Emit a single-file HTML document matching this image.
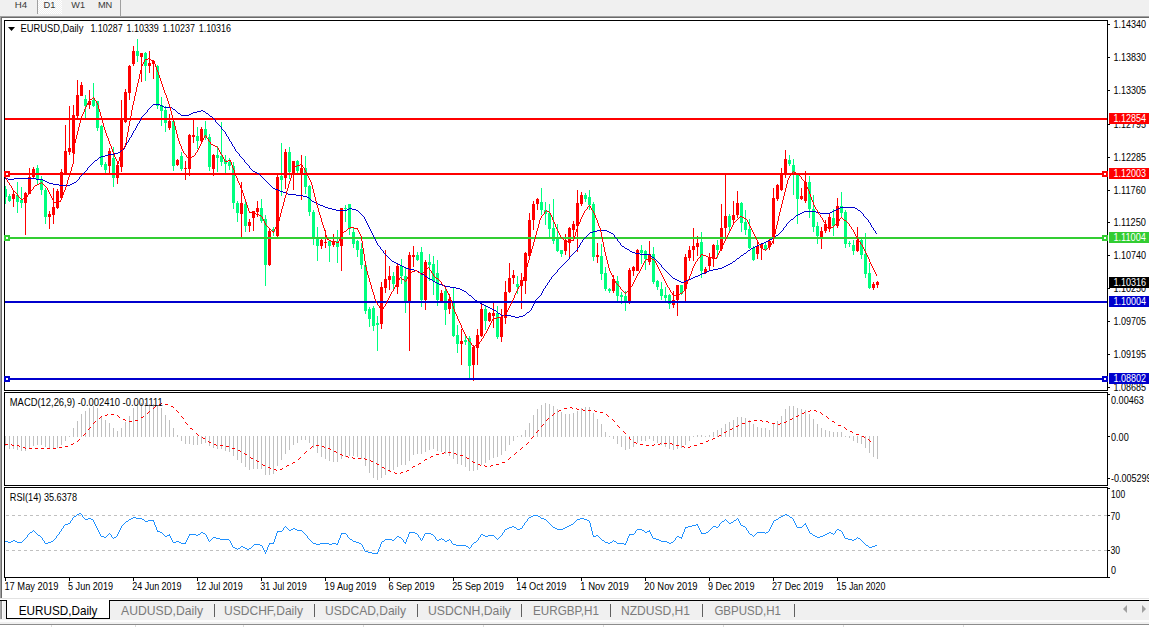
<!DOCTYPE html>
<html><head><meta charset="utf-8"><title>EURUSD,Daily</title>
<style>
html,body{margin:0;padding:0;background:#fff;}
body{width:1149px;height:627px;overflow:hidden;position:relative;font-family:"Liberation Sans",sans-serif;}
svg{position:absolute;left:0;top:0;display:block;}
text{font-family:"Liberation Sans",sans-serif;}
.ax{font-size:10.4px;fill:#000;}
.axw{font-size:10.4px;fill:#fff;}
.dt{font-size:10.4px;fill:#000;}
.ttl{font-size:10.4px;fill:#000;}
.tb{font-size:9.8px;fill:#383838;}
.tab{font-size:12.8px;fill:#7a7a7a;}
.taba{font-size:12.8px;fill:#000;}
</style></head><body>
<svg width="1149" height="627" viewBox="0 0 1149 627">
<g shape-rendering="crispEdges">
<rect x="0" y="0" width="1149" height="627" fill="#ffffff"/>
<rect x="0" y="0" width="1149" height="16" fill="#f0f0f0"/>
<defs><pattern id="hatch" width="2" height="2" patternUnits="userSpaceOnUse"><rect width="2" height="2" fill="#f0f0f0"/><rect width="1" height="1" fill="#ffffff"/><rect x="1" y="1" width="1" height="1" fill="#ffffff"/></pattern></defs>
<rect x="38" y="0" width="24" height="14" fill="url(#hatch)"/>
<rect x="37" y="0" width="1" height="14" fill="#a0a0a0"/>
<rect x="120" y="0" width="1" height="16" fill="#a0a0a0"/>
<rect x="0" y="16" width="1149" height="1" fill="#a0a0a0"/>
<rect x="0" y="17" width="1149" height="1" fill="#696969"/>
<rect x="0" y="17" width="1" height="581" fill="#a0a0a0"/>
<rect x="1" y="18" width="1" height="580" fill="#696969"/>
<rect x="0" y="598" width="1149" height="1" fill="#e3e3e3"/>
<rect x="0" y="601" width="1149" height="26" fill="#f0f0f0"/>
<rect x="0" y="600" width="1149" height="1" fill="#000"/>
<rect x="6" y="600" width="103" height="18" fill="#fff"/>
<rect x="6" y="600" width="1" height="19" fill="#000"/>
<rect x="109" y="600" width="1" height="19" fill="#000"/>
<rect x="6" y="618" width="104" height="1" fill="#000"/>
<rect x="0" y="601" width="1" height="18" fill="#a8a8a8"/><rect x="1" y="601" width="1" height="18" fill="#909090"/><rect x="2" y="601" width="1" height="18" fill="#fafafa"/>
<rect x="0" y="620" width="1149" height="2" fill="#fcfcfc"/>
<rect x="0" y="624" width="1149" height="1" fill="#8c8c8c"/>
<rect x="0" y="625" width="1149" height="2" fill="#ffffff"/>
<rect x="51" y="625" width="1" height="2" fill="#dcdcdc"/>
<rect x="135" y="625" width="1" height="2" fill="#dcdcdc"/>
<rect x="243" y="625" width="1" height="2" fill="#dcdcdc"/>
<rect x="363" y="625" width="1" height="2" fill="#dcdcdc"/>
<rect x="483" y="625" width="1" height="2" fill="#dcdcdc"/>
<rect x="603" y="625" width="1" height="2" fill="#dcdcdc"/>
<rect x="723" y="625" width="1" height="2" fill="#dcdcdc"/>
<rect x="843" y="625" width="1" height="2" fill="#dcdcdc"/>
<rect x="963" y="625" width="1" height="2" fill="#dcdcdc"/>
<rect x="214" y="604" width="1" height="13" fill="#606060"/>
<rect x="314" y="604" width="1" height="13" fill="#606060"/>
<rect x="417" y="604" width="1" height="13" fill="#606060"/>
<rect x="521" y="604" width="1" height="13" fill="#606060"/>
<rect x="610" y="604" width="1" height="13" fill="#606060"/>
<rect x="702" y="604" width="1" height="13" fill="#606060"/>
<rect x="794" y="604" width="1" height="13" fill="#606060"/>
<rect x="4" y="20" width="1104" height="1" fill="#000"/>
<rect x="4" y="390" width="1104" height="1" fill="#000"/>
<rect x="4" y="20" width="1" height="371" fill="#000"/>
<rect x="1107" y="20" width="1" height="371" fill="#000"/>
<rect x="4" y="392" width="1104" height="1" fill="#000"/>
<rect x="4" y="485" width="1104" height="1" fill="#000"/>
<rect x="4" y="392" width="1" height="94" fill="#000"/>
<rect x="1107" y="392" width="1" height="94" fill="#000"/>
<rect x="4" y="487" width="1104" height="1" fill="#000"/>
<rect x="4" y="577" width="1104" height="1" fill="#000"/>
<rect x="4" y="487" width="1" height="91" fill="#000"/>
<rect x="1107" y="487" width="1" height="91" fill="#000"/>
<rect x="1108" y="24" width="2" height="1" fill="#000"/>
<rect x="1108" y="57" width="2" height="1" fill="#000"/>
<rect x="1108" y="90" width="2" height="1" fill="#000"/>
<rect x="1108" y="124" width="2" height="1" fill="#000"/>
<rect x="1108" y="157" width="2" height="1" fill="#000"/>
<rect x="1108" y="190" width="2" height="1" fill="#000"/>
<rect x="1108" y="222" width="2" height="1" fill="#000"/>
<rect x="1108" y="255" width="2" height="1" fill="#000"/>
<rect x="1108" y="288" width="2" height="1" fill="#000"/>
<rect x="1108" y="321" width="2" height="1" fill="#000"/>
<rect x="1108" y="354" width="2" height="1" fill="#000"/>
<rect x="1108" y="387" width="2" height="1" fill="#000"/>
<rect x="1108" y="394" width="2" height="1" fill="#000"/>
<rect x="1108" y="436" width="2" height="1" fill="#000"/>
<rect x="1108" y="478" width="2" height="1" fill="#000"/>
<rect x="1108" y="488" width="2" height="1" fill="#000"/>
<rect x="1108" y="515" width="2" height="1" fill="#000"/>
<rect x="1108" y="550" width="2" height="1" fill="#000"/>
<rect x="1108" y="577" width="2" height="1" fill="#000"/>
<rect x="5" y="577" width="1" height="4" fill="#000"/>
<rect x="69" y="577" width="1" height="4" fill="#000"/>
<rect x="133" y="577" width="1" height="4" fill="#000"/>
<rect x="197" y="577" width="1" height="4" fill="#000"/>
<rect x="261" y="577" width="1" height="4" fill="#000"/>
<rect x="325" y="577" width="1" height="4" fill="#000"/>
<rect x="389" y="577" width="1" height="4" fill="#000"/>
<rect x="453" y="577" width="1" height="4" fill="#000"/>
<rect x="517" y="577" width="1" height="4" fill="#000"/>
<rect x="581" y="577" width="1" height="4" fill="#000"/>
<rect x="645" y="577" width="1" height="4" fill="#000"/>
<rect x="709" y="577" width="1" height="4" fill="#000"/>
<rect x="773" y="577" width="1" height="4" fill="#000"/>
<rect x="837" y="577" width="1" height="4" fill="#000"/>
<path d="M6 515.5H1107" stroke="#c0c0c0" stroke-width="1" stroke-dasharray="3,3" fill="none"/>
<path d="M6 550.5H1107" stroke="#c0c0c0" stroke-width="1" stroke-dasharray="3,3" fill="none"/>
<rect x="5" y="436" width="1" height="10" fill="#c0c0c0"/>
<rect x="9" y="436" width="1" height="13" fill="#c0c0c0"/>
<rect x="13" y="436" width="1" height="13" fill="#c0c0c0"/>
<rect x="17" y="436" width="1" height="14" fill="#c0c0c0"/>
<rect x="21" y="436" width="1" height="15" fill="#c0c0c0"/>
<rect x="25" y="436" width="1" height="15" fill="#c0c0c0"/>
<rect x="29" y="436" width="1" height="13" fill="#c0c0c0"/>
<rect x="33" y="436" width="1" height="10" fill="#c0c0c0"/>
<rect x="37" y="436" width="1" height="9" fill="#c0c0c0"/>
<rect x="41" y="436" width="1" height="9" fill="#c0c0c0"/>
<rect x="45" y="436" width="1" height="11" fill="#c0c0c0"/>
<rect x="49" y="436" width="1" height="13" fill="#c0c0c0"/>
<rect x="53" y="436" width="1" height="13" fill="#c0c0c0"/>
<rect x="57" y="436" width="1" height="12" fill="#c0c0c0"/>
<rect x="61" y="436" width="1" height="9" fill="#c0c0c0"/>
<rect x="65" y="436" width="1" height="5" fill="#c0c0c0"/>
<rect x="69" y="436" width="1" height="1" fill="#c0c0c0"/>
<rect x="73" y="428" width="1" height="9" fill="#c0c0c0"/>
<rect x="77" y="421" width="1" height="16" fill="#c0c0c0"/>
<rect x="81" y="414" width="1" height="23" fill="#c0c0c0"/>
<rect x="85" y="411" width="1" height="26" fill="#c0c0c0"/>
<rect x="89" y="408" width="1" height="29" fill="#c0c0c0"/>
<rect x="93" y="406" width="1" height="31" fill="#c0c0c0"/>
<rect x="97" y="408" width="1" height="29" fill="#c0c0c0"/>
<rect x="101" y="416" width="1" height="21" fill="#c0c0c0"/>
<rect x="105" y="420" width="1" height="17" fill="#c0c0c0"/>
<rect x="109" y="423" width="1" height="14" fill="#c0c0c0"/>
<rect x="113" y="428" width="1" height="9" fill="#c0c0c0"/>
<rect x="117" y="431" width="1" height="6" fill="#c0c0c0"/>
<rect x="121" y="428" width="1" height="9" fill="#c0c0c0"/>
<rect x="125" y="422" width="1" height="15" fill="#c0c0c0"/>
<rect x="129" y="416" width="1" height="21" fill="#c0c0c0"/>
<rect x="133" y="408" width="1" height="29" fill="#c0c0c0"/>
<rect x="137" y="404" width="1" height="33" fill="#c0c0c0"/>
<rect x="141" y="403" width="1" height="34" fill="#c0c0c0"/>
<rect x="145" y="403" width="1" height="34" fill="#c0c0c0"/>
<rect x="149" y="404" width="1" height="33" fill="#c0c0c0"/>
<rect x="153" y="404" width="1" height="33" fill="#c0c0c0"/>
<rect x="157" y="405" width="1" height="32" fill="#c0c0c0"/>
<rect x="161" y="408" width="1" height="29" fill="#c0c0c0"/>
<rect x="165" y="415" width="1" height="22" fill="#c0c0c0"/>
<rect x="169" y="420" width="1" height="17" fill="#c0c0c0"/>
<rect x="173" y="428" width="1" height="9" fill="#c0c0c0"/>
<rect x="177" y="435" width="1" height="2" fill="#c0c0c0"/>
<rect x="181" y="436" width="1" height="5" fill="#c0c0c0"/>
<rect x="185" y="436" width="1" height="8" fill="#c0c0c0"/>
<rect x="189" y="436" width="1" height="8" fill="#c0c0c0"/>
<rect x="193" y="436" width="1" height="9" fill="#c0c0c0"/>
<rect x="197" y="436" width="1" height="9" fill="#c0c0c0"/>
<rect x="201" y="436" width="1" height="8" fill="#c0c0c0"/>
<rect x="205" y="436" width="1" height="7" fill="#c0c0c0"/>
<rect x="209" y="436" width="1" height="10" fill="#c0c0c0"/>
<rect x="213" y="436" width="1" height="12" fill="#c0c0c0"/>
<rect x="217" y="436" width="1" height="13" fill="#c0c0c0"/>
<rect x="221" y="436" width="1" height="13" fill="#c0c0c0"/>
<rect x="225" y="436" width="1" height="15" fill="#c0c0c0"/>
<rect x="229" y="436" width="1" height="16" fill="#c0c0c0"/>
<rect x="233" y="436" width="1" height="20" fill="#c0c0c0"/>
<rect x="237" y="436" width="1" height="24" fill="#c0c0c0"/>
<rect x="241" y="436" width="1" height="27" fill="#c0c0c0"/>
<rect x="245" y="436" width="1" height="31" fill="#c0c0c0"/>
<rect x="249" y="436" width="1" height="34" fill="#c0c0c0"/>
<rect x="253" y="436" width="1" height="33" fill="#c0c0c0"/>
<rect x="257" y="436" width="1" height="33" fill="#c0c0c0"/>
<rect x="261" y="436" width="1" height="33" fill="#c0c0c0"/>
<rect x="265" y="436" width="1" height="39" fill="#c0c0c0"/>
<rect x="269" y="436" width="1" height="39" fill="#c0c0c0"/>
<rect x="273" y="436" width="1" height="38" fill="#c0c0c0"/>
<rect x="277" y="436" width="1" height="30" fill="#c0c0c0"/>
<rect x="281" y="436" width="1" height="24" fill="#c0c0c0"/>
<rect x="285" y="436" width="1" height="18" fill="#c0c0c0"/>
<rect x="289" y="436" width="1" height="14" fill="#c0c0c0"/>
<rect x="293" y="436" width="1" height="9" fill="#c0c0c0"/>
<rect x="297" y="436" width="1" height="7" fill="#c0c0c0"/>
<rect x="301" y="436" width="1" height="4" fill="#c0c0c0"/>
<rect x="305" y="436" width="1" height="4" fill="#c0c0c0"/>
<rect x="309" y="436" width="1" height="7" fill="#c0c0c0"/>
<rect x="313" y="436" width="1" height="12" fill="#c0c0c0"/>
<rect x="317" y="436" width="1" height="17" fill="#c0c0c0"/>
<rect x="321" y="436" width="1" height="21" fill="#c0c0c0"/>
<rect x="325" y="436" width="1" height="23" fill="#c0c0c0"/>
<rect x="329" y="436" width="1" height="25" fill="#c0c0c0"/>
<rect x="333" y="436" width="1" height="26" fill="#c0c0c0"/>
<rect x="337" y="436" width="1" height="26" fill="#c0c0c0"/>
<rect x="341" y="436" width="1" height="23" fill="#c0c0c0"/>
<rect x="345" y="436" width="1" height="21" fill="#c0c0c0"/>
<rect x="349" y="436" width="1" height="20" fill="#c0c0c0"/>
<rect x="353" y="436" width="1" height="20" fill="#c0c0c0"/>
<rect x="357" y="436" width="1" height="21" fill="#c0c0c0"/>
<rect x="361" y="436" width="1" height="23" fill="#c0c0c0"/>
<rect x="365" y="436" width="1" height="30" fill="#c0c0c0"/>
<rect x="369" y="436" width="1" height="37" fill="#c0c0c0"/>
<rect x="373" y="436" width="1" height="42" fill="#c0c0c0"/>
<rect x="377" y="436" width="1" height="44" fill="#c0c0c0"/>
<rect x="381" y="436" width="1" height="42" fill="#c0c0c0"/>
<rect x="385" y="436" width="1" height="39" fill="#c0c0c0"/>
<rect x="389" y="436" width="1" height="36" fill="#c0c0c0"/>
<rect x="393" y="436" width="1" height="34" fill="#c0c0c0"/>
<rect x="397" y="436" width="1" height="31" fill="#c0c0c0"/>
<rect x="401" y="436" width="1" height="29" fill="#c0c0c0"/>
<rect x="405" y="436" width="1" height="29" fill="#c0c0c0"/>
<rect x="409" y="436" width="1" height="25" fill="#c0c0c0"/>
<rect x="413" y="436" width="1" height="19" fill="#c0c0c0"/>
<rect x="417" y="436" width="1" height="18" fill="#c0c0c0"/>
<rect x="421" y="436" width="1" height="18" fill="#c0c0c0"/>
<rect x="425" y="436" width="1" height="16" fill="#c0c0c0"/>
<rect x="429" y="436" width="1" height="14" fill="#c0c0c0"/>
<rect x="433" y="436" width="1" height="13" fill="#c0c0c0"/>
<rect x="437" y="436" width="1" height="15" fill="#c0c0c0"/>
<rect x="441" y="436" width="1" height="16" fill="#c0c0c0"/>
<rect x="445" y="436" width="1" height="18" fill="#c0c0c0"/>
<rect x="449" y="436" width="1" height="20" fill="#c0c0c0"/>
<rect x="453" y="436" width="1" height="23" fill="#c0c0c0"/>
<rect x="457" y="436" width="1" height="28" fill="#c0c0c0"/>
<rect x="461" y="436" width="1" height="29" fill="#c0c0c0"/>
<rect x="465" y="436" width="1" height="31" fill="#c0c0c0"/>
<rect x="469" y="436" width="1" height="35" fill="#c0c0c0"/>
<rect x="473" y="436" width="1" height="35" fill="#c0c0c0"/>
<rect x="477" y="436" width="1" height="34" fill="#c0c0c0"/>
<rect x="481" y="436" width="1" height="29" fill="#c0c0c0"/>
<rect x="485" y="436" width="1" height="27" fill="#c0c0c0"/>
<rect x="489" y="436" width="1" height="24" fill="#c0c0c0"/>
<rect x="493" y="436" width="1" height="22" fill="#c0c0c0"/>
<rect x="497" y="436" width="1" height="21" fill="#c0c0c0"/>
<rect x="501" y="436" width="1" height="19" fill="#c0c0c0"/>
<rect x="505" y="436" width="1" height="15" fill="#c0c0c0"/>
<rect x="509" y="436" width="1" height="9" fill="#c0c0c0"/>
<rect x="513" y="436" width="1" height="5" fill="#c0c0c0"/>
<rect x="517" y="436" width="1" height="1" fill="#c0c0c0"/>
<rect x="521" y="435" width="1" height="2" fill="#c0c0c0"/>
<rect x="525" y="430" width="1" height="7" fill="#c0c0c0"/>
<rect x="529" y="423" width="1" height="14" fill="#c0c0c0"/>
<rect x="533" y="415" width="1" height="22" fill="#c0c0c0"/>
<rect x="537" y="409" width="1" height="28" fill="#c0c0c0"/>
<rect x="541" y="405" width="1" height="32" fill="#c0c0c0"/>
<rect x="545" y="403" width="1" height="34" fill="#c0c0c0"/>
<rect x="549" y="404" width="1" height="33" fill="#c0c0c0"/>
<rect x="553" y="406" width="1" height="31" fill="#c0c0c0"/>
<rect x="557" y="409" width="1" height="28" fill="#c0c0c0"/>
<rect x="561" y="412" width="1" height="25" fill="#c0c0c0"/>
<rect x="565" y="414" width="1" height="23" fill="#c0c0c0"/>
<rect x="569" y="414" width="1" height="23" fill="#c0c0c0"/>
<rect x="573" y="413" width="1" height="24" fill="#c0c0c0"/>
<rect x="577" y="411" width="1" height="26" fill="#c0c0c0"/>
<rect x="581" y="408" width="1" height="29" fill="#c0c0c0"/>
<rect x="585" y="407" width="1" height="30" fill="#c0c0c0"/>
<rect x="589" y="407" width="1" height="30" fill="#c0c0c0"/>
<rect x="593" y="413" width="1" height="24" fill="#c0c0c0"/>
<rect x="597" y="419" width="1" height="18" fill="#c0c0c0"/>
<rect x="601" y="424" width="1" height="13" fill="#c0c0c0"/>
<rect x="605" y="432" width="1" height="5" fill="#c0c0c0"/>
<rect x="609" y="436" width="1" height="1" fill="#c0c0c0"/>
<rect x="613" y="436" width="1" height="3" fill="#c0c0c0"/>
<rect x="617" y="436" width="1" height="8" fill="#c0c0c0"/>
<rect x="621" y="436" width="1" height="11" fill="#c0c0c0"/>
<rect x="625" y="436" width="1" height="14" fill="#c0c0c0"/>
<rect x="629" y="436" width="1" height="13" fill="#c0c0c0"/>
<rect x="633" y="436" width="1" height="11" fill="#c0c0c0"/>
<rect x="637" y="436" width="1" height="7" fill="#c0c0c0"/>
<rect x="641" y="436" width="1" height="5" fill="#c0c0c0"/>
<rect x="645" y="436" width="1" height="5" fill="#c0c0c0"/>
<rect x="649" y="436" width="1" height="3" fill="#c0c0c0"/>
<rect x="653" y="436" width="1" height="5" fill="#c0c0c0"/>
<rect x="657" y="436" width="1" height="7" fill="#c0c0c0"/>
<rect x="661" y="436" width="1" height="9" fill="#c0c0c0"/>
<rect x="665" y="436" width="1" height="11" fill="#c0c0c0"/>
<rect x="669" y="436" width="1" height="13" fill="#c0c0c0"/>
<rect x="673" y="436" width="1" height="14" fill="#c0c0c0"/>
<rect x="677" y="436" width="1" height="13" fill="#c0c0c0"/>
<rect x="681" y="436" width="1" height="12" fill="#c0c0c0"/>
<rect x="685" y="436" width="1" height="9" fill="#c0c0c0"/>
<rect x="689" y="436" width="1" height="5" fill="#c0c0c0"/>
<rect x="693" y="436" width="1" height="1" fill="#c0c0c0"/>
<rect x="697" y="435" width="1" height="2" fill="#c0c0c0"/>
<rect x="701" y="435" width="1" height="2" fill="#c0c0c0"/>
<rect x="705" y="436" width="1" height="1" fill="#c0c0c0"/>
<rect x="709" y="435" width="1" height="2" fill="#c0c0c0"/>
<rect x="713" y="432" width="1" height="5" fill="#c0c0c0"/>
<rect x="717" y="430" width="1" height="7" fill="#c0c0c0"/>
<rect x="721" y="428" width="1" height="9" fill="#c0c0c0"/>
<rect x="725" y="424" width="1" height="13" fill="#c0c0c0"/>
<rect x="729" y="422" width="1" height="15" fill="#c0c0c0"/>
<rect x="733" y="420" width="1" height="17" fill="#c0c0c0"/>
<rect x="737" y="417" width="1" height="20" fill="#c0c0c0"/>
<rect x="741" y="417" width="1" height="20" fill="#c0c0c0"/>
<rect x="745" y="418" width="1" height="19" fill="#c0c0c0"/>
<rect x="749" y="420" width="1" height="17" fill="#c0c0c0"/>
<rect x="753" y="424" width="1" height="13" fill="#c0c0c0"/>
<rect x="757" y="427" width="1" height="10" fill="#c0c0c0"/>
<rect x="761" y="428" width="1" height="9" fill="#c0c0c0"/>
<rect x="765" y="428" width="1" height="9" fill="#c0c0c0"/>
<rect x="769" y="430" width="1" height="7" fill="#c0c0c0"/>
<rect x="773" y="424" width="1" height="13" fill="#c0c0c0"/>
<rect x="777" y="421" width="1" height="16" fill="#c0c0c0"/>
<rect x="781" y="416" width="1" height="21" fill="#c0c0c0"/>
<rect x="785" y="409" width="1" height="28" fill="#c0c0c0"/>
<rect x="789" y="406" width="1" height="31" fill="#c0c0c0"/>
<rect x="793" y="406" width="1" height="31" fill="#c0c0c0"/>
<rect x="797" y="408" width="1" height="29" fill="#c0c0c0"/>
<rect x="801" y="409" width="1" height="28" fill="#c0c0c0"/>
<rect x="805" y="410" width="1" height="27" fill="#c0c0c0"/>
<rect x="809" y="414" width="1" height="23" fill="#c0c0c0"/>
<rect x="813" y="419" width="1" height="18" fill="#c0c0c0"/>
<rect x="817" y="424" width="1" height="13" fill="#c0c0c0"/>
<rect x="821" y="428" width="1" height="9" fill="#c0c0c0"/>
<rect x="825" y="430" width="1" height="7" fill="#c0c0c0"/>
<rect x="829" y="431" width="1" height="6" fill="#c0c0c0"/>
<rect x="833" y="432" width="1" height="5" fill="#c0c0c0"/>
<rect x="837" y="432" width="1" height="5" fill="#c0c0c0"/>
<rect x="841" y="432" width="1" height="5" fill="#c0c0c0"/>
<rect x="845" y="436" width="1" height="1" fill="#c0c0c0"/>
<rect x="849" y="436" width="1" height="2" fill="#c0c0c0"/>
<rect x="853" y="436" width="1" height="5" fill="#c0c0c0"/>
<rect x="857" y="436" width="1" height="7" fill="#c0c0c0"/>
<rect x="861" y="436" width="1" height="8" fill="#c0c0c0"/>
<rect x="865" y="436" width="1" height="12" fill="#c0c0c0"/>
<rect x="869" y="436" width="1" height="17" fill="#c0c0c0"/>
<rect x="873" y="436" width="1" height="21" fill="#c0c0c0"/>
<rect x="877" y="436" width="1" height="23" fill="#c0c0c0"/>
<rect x="5" y="186" width="1" height="18" fill="#00ff7f"/>
<rect x="5" y="189" width="2" height="8" fill="#00ff7f"/>
<rect x="9" y="194" width="1" height="8" fill="#00ff7f"/>
<rect x="8" y="196" width="3" height="5" fill="#00ff7f"/>
<rect x="13" y="191" width="1" height="16" fill="#ff0000"/>
<rect x="12" y="194" width="3" height="5" fill="#ff0000"/>
<rect x="17" y="182" width="1" height="31" fill="#00ff7f"/>
<rect x="16" y="195" width="3" height="7" fill="#00ff7f"/>
<rect x="21" y="187" width="1" height="21" fill="#00ff7f"/>
<rect x="20" y="200" width="3" height="3" fill="#00ff7f"/>
<rect x="25" y="192" width="1" height="43" fill="#ff0000"/>
<rect x="24" y="193" width="3" height="10" fill="#ff0000"/>
<rect x="29" y="168" width="1" height="26" fill="#ff0000"/>
<rect x="28" y="177" width="3" height="17" fill="#ff0000"/>
<rect x="33" y="167" width="1" height="11" fill="#ff0000"/>
<rect x="32" y="169" width="3" height="8" fill="#ff0000"/>
<rect x="37" y="165" width="1" height="19" fill="#00ff7f"/>
<rect x="36" y="168" width="3" height="12" fill="#00ff7f"/>
<rect x="41" y="176" width="1" height="19" fill="#00ff7f"/>
<rect x="40" y="180" width="3" height="10" fill="#00ff7f"/>
<rect x="45" y="188" width="1" height="36" fill="#00ff7f"/>
<rect x="44" y="190" width="3" height="27" fill="#00ff7f"/>
<rect x="49" y="211" width="1" height="18" fill="#ff0000"/>
<rect x="48" y="214" width="3" height="3" fill="#ff0000"/>
<rect x="53" y="188" width="1" height="36" fill="#ff0000"/>
<rect x="52" y="207" width="3" height="8" fill="#ff0000"/>
<rect x="57" y="189" width="1" height="20" fill="#ff0000"/>
<rect x="56" y="191" width="3" height="17" fill="#ff0000"/>
<rect x="61" y="169" width="1" height="30" fill="#ff0000"/>
<rect x="60" y="172" width="3" height="26" fill="#ff0000"/>
<rect x="65" y="125" width="1" height="50" fill="#ff0000"/>
<rect x="64" y="151" width="3" height="22" fill="#ff0000"/>
<rect x="69" y="106" width="1" height="49" fill="#ff0000"/>
<rect x="68" y="148" width="3" height="4" fill="#ff0000"/>
<rect x="73" y="105" width="1" height="49" fill="#ff0000"/>
<rect x="72" y="115" width="3" height="38" fill="#ff0000"/>
<rect x="77" y="80" width="1" height="39" fill="#ff0000"/>
<rect x="76" y="95" width="3" height="21" fill="#ff0000"/>
<rect x="81" y="82" width="1" height="14" fill="#ff0000"/>
<rect x="80" y="85" width="3" height="11" fill="#ff0000"/>
<rect x="85" y="95" width="1" height="23" fill="#00ff7f"/>
<rect x="84" y="99" width="3" height="7" fill="#00ff7f"/>
<rect x="89" y="90" width="1" height="19" fill="#ff0000"/>
<rect x="88" y="101" width="3" height="4" fill="#ff0000"/>
<rect x="93" y="83" width="1" height="24" fill="#00ff7f"/>
<rect x="92" y="100" width="3" height="6" fill="#00ff7f"/>
<rect x="97" y="101" width="1" height="30" fill="#00ff7f"/>
<rect x="96" y="101" width="3" height="27" fill="#00ff7f"/>
<rect x="101" y="125" width="1" height="42" fill="#00ff7f"/>
<rect x="100" y="126" width="3" height="39" fill="#00ff7f"/>
<rect x="105" y="162" width="1" height="11" fill="#00ff7f"/>
<rect x="104" y="164" width="3" height="6" fill="#00ff7f"/>
<rect x="109" y="148" width="1" height="25" fill="#ff0000"/>
<rect x="108" y="151" width="3" height="15" fill="#ff0000"/>
<rect x="113" y="147" width="1" height="40" fill="#00ff7f"/>
<rect x="112" y="158" width="3" height="20" fill="#00ff7f"/>
<rect x="117" y="162" width="1" height="22" fill="#ff0000"/>
<rect x="116" y="165" width="3" height="13" fill="#ff0000"/>
<rect x="121" y="100" width="1" height="72" fill="#ff0000"/>
<rect x="120" y="120" width="3" height="47" fill="#ff0000"/>
<rect x="125" y="89" width="1" height="34" fill="#ff0000"/>
<rect x="124" y="92" width="3" height="30" fill="#ff0000"/>
<rect x="129" y="65" width="1" height="35" fill="#ff0000"/>
<rect x="128" y="66" width="3" height="27" fill="#ff0000"/>
<rect x="133" y="46" width="1" height="20" fill="#ff0000"/>
<rect x="132" y="51" width="3" height="13" fill="#ff0000"/>
<rect x="137" y="39" width="1" height="23" fill="#00ff7f"/>
<rect x="136" y="51" width="3" height="5" fill="#00ff7f"/>
<rect x="141" y="53" width="1" height="29" fill="#ff0000"/>
<rect x="140" y="53" width="3" height="4" fill="#ff0000"/>
<rect x="145" y="52" width="1" height="29" fill="#00ff7f"/>
<rect x="144" y="53" width="3" height="13" fill="#00ff7f"/>
<rect x="149" y="51" width="1" height="22" fill="#ff0000"/>
<rect x="148" y="63" width="3" height="3" fill="#ff0000"/>
<rect x="153" y="60" width="1" height="19" fill="#ff0000"/>
<rect x="152" y="61" width="3" height="3" fill="#ff0000"/>
<rect x="157" y="65" width="1" height="44" fill="#00ff7f"/>
<rect x="156" y="66" width="3" height="40" fill="#00ff7f"/>
<rect x="161" y="97" width="1" height="29" fill="#00ff7f"/>
<rect x="160" y="105" width="3" height="6" fill="#00ff7f"/>
<rect x="165" y="106" width="1" height="26" fill="#00ff7f"/>
<rect x="164" y="110" width="3" height="13" fill="#00ff7f"/>
<rect x="169" y="114" width="1" height="16" fill="#ff0000"/>
<rect x="168" y="121" width="3" height="7" fill="#ff0000"/>
<rect x="173" y="120" width="1" height="51" fill="#00ff7f"/>
<rect x="172" y="121" width="3" height="45" fill="#00ff7f"/>
<rect x="177" y="159" width="1" height="7" fill="#ff0000"/>
<rect x="176" y="160" width="3" height="5" fill="#ff0000"/>
<rect x="181" y="152" width="1" height="19" fill="#00ff7f"/>
<rect x="180" y="156" width="3" height="13" fill="#00ff7f"/>
<rect x="185" y="161" width="1" height="19" fill="#ff0000"/>
<rect x="184" y="168" width="3" height="1" fill="#ff0000"/>
<rect x="189" y="134" width="1" height="42" fill="#ff0000"/>
<rect x="188" y="135" width="3" height="34" fill="#ff0000"/>
<rect x="193" y="120" width="1" height="23" fill="#ff0000"/>
<rect x="192" y="135" width="3" height="2" fill="#ff0000"/>
<rect x="197" y="127" width="1" height="22" fill="#00ff7f"/>
<rect x="196" y="136" width="3" height="5" fill="#00ff7f"/>
<rect x="201" y="127" width="1" height="15" fill="#ff0000"/>
<rect x="200" y="129" width="3" height="12" fill="#ff0000"/>
<rect x="205" y="121" width="1" height="19" fill="#00ff7f"/>
<rect x="204" y="129" width="3" height="7" fill="#00ff7f"/>
<rect x="209" y="134" width="1" height="37" fill="#00ff7f"/>
<rect x="208" y="137" width="3" height="30" fill="#00ff7f"/>
<rect x="213" y="154" width="1" height="22" fill="#ff0000"/>
<rect x="212" y="155" width="3" height="14" fill="#ff0000"/>
<rect x="217" y="146" width="1" height="26" fill="#00ff7f"/>
<rect x="216" y="155" width="3" height="3" fill="#00ff7f"/>
<rect x="221" y="122" width="1" height="44" fill="#00ff7f"/>
<rect x="220" y="156" width="3" height="6" fill="#00ff7f"/>
<rect x="225" y="155" width="1" height="18" fill="#00ff7f"/>
<rect x="224" y="160" width="3" height="4" fill="#00ff7f"/>
<rect x="229" y="158" width="1" height="12" fill="#00ff7f"/>
<rect x="228" y="162" width="3" height="4" fill="#00ff7f"/>
<rect x="233" y="162" width="1" height="47" fill="#00ff7f"/>
<rect x="232" y="166" width="3" height="37" fill="#00ff7f"/>
<rect x="237" y="201" width="1" height="21" fill="#00ff7f"/>
<rect x="236" y="203" width="3" height="10" fill="#00ff7f"/>
<rect x="241" y="182" width="1" height="55" fill="#ff0000"/>
<rect x="240" y="203" width="3" height="11" fill="#ff0000"/>
<rect x="245" y="202" width="1" height="30" fill="#00ff7f"/>
<rect x="244" y="204" width="3" height="22" fill="#00ff7f"/>
<rect x="249" y="219" width="1" height="13" fill="#ff0000"/>
<rect x="248" y="222" width="3" height="4" fill="#ff0000"/>
<rect x="253" y="211" width="1" height="20" fill="#ff0000"/>
<rect x="252" y="211" width="3" height="7" fill="#ff0000"/>
<rect x="257" y="201" width="1" height="16" fill="#ff0000"/>
<rect x="256" y="208" width="3" height="4" fill="#ff0000"/>
<rect x="261" y="199" width="1" height="24" fill="#00ff7f"/>
<rect x="260" y="208" width="3" height="13" fill="#00ff7f"/>
<rect x="265" y="215" width="1" height="71" fill="#00ff7f"/>
<rect x="264" y="219" width="3" height="46" fill="#00ff7f"/>
<rect x="269" y="229" width="1" height="37" fill="#ff0000"/>
<rect x="268" y="231" width="3" height="34" fill="#ff0000"/>
<rect x="273" y="227" width="1" height="9" fill="#00ff7f"/>
<rect x="272" y="229" width="3" height="3" fill="#00ff7f"/>
<rect x="277" y="175" width="1" height="62" fill="#ff0000"/>
<rect x="276" y="177" width="3" height="59" fill="#ff0000"/>
<rect x="281" y="143" width="1" height="53" fill="#00ff7f"/>
<rect x="280" y="176" width="3" height="4" fill="#00ff7f"/>
<rect x="285" y="149" width="1" height="40" fill="#ff0000"/>
<rect x="284" y="152" width="3" height="26" fill="#ff0000"/>
<rect x="289" y="147" width="1" height="32" fill="#00ff7f"/>
<rect x="288" y="152" width="3" height="20" fill="#00ff7f"/>
<rect x="293" y="161" width="1" height="29" fill="#ff0000"/>
<rect x="292" y="161" width="3" height="12" fill="#ff0000"/>
<rect x="297" y="160" width="1" height="13" fill="#00ff7f"/>
<rect x="296" y="161" width="3" height="10" fill="#00ff7f"/>
<rect x="301" y="155" width="1" height="45" fill="#ff0000"/>
<rect x="300" y="168" width="3" height="7" fill="#ff0000"/>
<rect x="305" y="156" width="1" height="38" fill="#00ff7f"/>
<rect x="304" y="168" width="3" height="19" fill="#00ff7f"/>
<rect x="309" y="185" width="1" height="31" fill="#00ff7f"/>
<rect x="308" y="186" width="3" height="26" fill="#00ff7f"/>
<rect x="313" y="210" width="1" height="35" fill="#00ff7f"/>
<rect x="312" y="212" width="3" height="26" fill="#00ff7f"/>
<rect x="317" y="227" width="1" height="34" fill="#00ff7f"/>
<rect x="316" y="238" width="3" height="8" fill="#00ff7f"/>
<rect x="321" y="239" width="1" height="10" fill="#ff0000"/>
<rect x="320" y="240" width="3" height="6" fill="#ff0000"/>
<rect x="325" y="230" width="1" height="18" fill="#ff0000"/>
<rect x="324" y="242" width="3" height="1" fill="#ff0000"/>
<rect x="329" y="240" width="1" height="22" fill="#00ff7f"/>
<rect x="328" y="241" width="3" height="5" fill="#00ff7f"/>
<rect x="333" y="234" width="1" height="13" fill="#ff0000"/>
<rect x="332" y="241" width="3" height="4" fill="#ff0000"/>
<rect x="337" y="230" width="1" height="33" fill="#00ff7f"/>
<rect x="336" y="241" width="3" height="6" fill="#00ff7f"/>
<rect x="341" y="208" width="1" height="63" fill="#ff0000"/>
<rect x="340" y="208" width="3" height="38" fill="#ff0000"/>
<rect x="345" y="205" width="1" height="17" fill="#00ff7f"/>
<rect x="344" y="208" width="3" height="1" fill="#00ff7f"/>
<rect x="349" y="204" width="1" height="31" fill="#00ff7f"/>
<rect x="348" y="204" width="3" height="25" fill="#00ff7f"/>
<rect x="353" y="228" width="1" height="20" fill="#00ff7f"/>
<rect x="352" y="232" width="3" height="12" fill="#00ff7f"/>
<rect x="357" y="240" width="1" height="17" fill="#00ff7f"/>
<rect x="356" y="241" width="3" height="9" fill="#00ff7f"/>
<rect x="361" y="243" width="1" height="26" fill="#00ff7f"/>
<rect x="360" y="249" width="3" height="16" fill="#00ff7f"/>
<rect x="365" y="264" width="1" height="50" fill="#00ff7f"/>
<rect x="364" y="265" width="3" height="46" fill="#00ff7f"/>
<rect x="369" y="307" width="1" height="20" fill="#00ff7f"/>
<rect x="368" y="309" width="3" height="10" fill="#00ff7f"/>
<rect x="373" y="306" width="1" height="25" fill="#00ff7f"/>
<rect x="372" y="308" width="3" height="18" fill="#00ff7f"/>
<rect x="377" y="316" width="1" height="35" fill="#00ff7f"/>
<rect x="376" y="323" width="3" height="2" fill="#00ff7f"/>
<rect x="381" y="282" width="1" height="47" fill="#ff0000"/>
<rect x="380" y="287" width="3" height="37" fill="#ff0000"/>
<rect x="385" y="250" width="1" height="43" fill="#ff0000"/>
<rect x="384" y="279" width="3" height="9" fill="#ff0000"/>
<rect x="389" y="266" width="1" height="24" fill="#ff0000"/>
<rect x="388" y="276" width="3" height="4" fill="#ff0000"/>
<rect x="393" y="272" width="1" height="17" fill="#00ff7f"/>
<rect x="392" y="276" width="3" height="8" fill="#00ff7f"/>
<rect x="397" y="263" width="1" height="31" fill="#ff0000"/>
<rect x="396" y="266" width="3" height="21" fill="#ff0000"/>
<rect x="401" y="259" width="1" height="25" fill="#00ff7f"/>
<rect x="400" y="266" width="3" height="10" fill="#00ff7f"/>
<rect x="405" y="267" width="1" height="46" fill="#00ff7f"/>
<rect x="404" y="276" width="3" height="25" fill="#00ff7f"/>
<rect x="409" y="252" width="1" height="99" fill="#ff0000"/>
<rect x="408" y="255" width="3" height="48" fill="#ff0000"/>
<rect x="413" y="246" width="1" height="21" fill="#ff0000"/>
<rect x="412" y="255" width="3" height="2" fill="#ff0000"/>
<rect x="417" y="252" width="1" height="9" fill="#00ff7f"/>
<rect x="416" y="255" width="3" height="5" fill="#00ff7f"/>
<rect x="421" y="247" width="1" height="60" fill="#00ff7f"/>
<rect x="420" y="252" width="3" height="48" fill="#00ff7f"/>
<rect x="425" y="260" width="1" height="50" fill="#ff0000"/>
<rect x="424" y="262" width="3" height="38" fill="#ff0000"/>
<rect x="429" y="254" width="1" height="27" fill="#00ff7f"/>
<rect x="428" y="262" width="3" height="3" fill="#00ff7f"/>
<rect x="433" y="256" width="1" height="39" fill="#00ff7f"/>
<rect x="432" y="264" width="3" height="17" fill="#00ff7f"/>
<rect x="437" y="260" width="1" height="46" fill="#00ff7f"/>
<rect x="436" y="273" width="3" height="27" fill="#00ff7f"/>
<rect x="441" y="290" width="1" height="12" fill="#ff0000"/>
<rect x="440" y="293" width="3" height="8" fill="#ff0000"/>
<rect x="445" y="286" width="1" height="39" fill="#00ff7f"/>
<rect x="444" y="291" width="3" height="19" fill="#00ff7f"/>
<rect x="449" y="294" width="1" height="20" fill="#ff0000"/>
<rect x="448" y="299" width="3" height="10" fill="#ff0000"/>
<rect x="453" y="288" width="1" height="49" fill="#00ff7f"/>
<rect x="452" y="303" width="3" height="33" fill="#00ff7f"/>
<rect x="457" y="325" width="1" height="28" fill="#00ff7f"/>
<rect x="456" y="335" width="3" height="9" fill="#00ff7f"/>
<rect x="461" y="329" width="1" height="36" fill="#ff0000"/>
<rect x="460" y="341" width="3" height="3" fill="#ff0000"/>
<rect x="465" y="336" width="1" height="9" fill="#00ff7f"/>
<rect x="464" y="340" width="3" height="2" fill="#00ff7f"/>
<rect x="469" y="336" width="1" height="42" fill="#00ff7f"/>
<rect x="468" y="338" width="3" height="28" fill="#00ff7f"/>
<rect x="473" y="345" width="1" height="36" fill="#ff0000"/>
<rect x="472" y="347" width="3" height="18" fill="#ff0000"/>
<rect x="477" y="329" width="1" height="36" fill="#ff0000"/>
<rect x="476" y="335" width="3" height="13" fill="#ff0000"/>
<rect x="481" y="302" width="1" height="35" fill="#ff0000"/>
<rect x="480" y="309" width="3" height="27" fill="#ff0000"/>
<rect x="485" y="306" width="1" height="24" fill="#00ff7f"/>
<rect x="484" y="309" width="3" height="12" fill="#00ff7f"/>
<rect x="489" y="312" width="1" height="10" fill="#ff0000"/>
<rect x="488" y="313" width="3" height="8" fill="#ff0000"/>
<rect x="493" y="302" width="1" height="26" fill="#ff0000"/>
<rect x="492" y="313" width="3" height="3" fill="#ff0000"/>
<rect x="497" y="306" width="1" height="33" fill="#00ff7f"/>
<rect x="496" y="313" width="3" height="24" fill="#00ff7f"/>
<rect x="501" y="309" width="1" height="33" fill="#ff0000"/>
<rect x="500" y="317" width="3" height="20" fill="#ff0000"/>
<rect x="505" y="281" width="1" height="43" fill="#ff0000"/>
<rect x="504" y="292" width="3" height="26" fill="#ff0000"/>
<rect x="509" y="263" width="1" height="30" fill="#ff0000"/>
<rect x="508" y="278" width="3" height="14" fill="#ff0000"/>
<rect x="513" y="270" width="1" height="14" fill="#ff0000"/>
<rect x="512" y="275" width="3" height="3" fill="#ff0000"/>
<rect x="517" y="276" width="1" height="18" fill="#00ff7f"/>
<rect x="516" y="284" width="3" height="3" fill="#00ff7f"/>
<rect x="521" y="273" width="1" height="36" fill="#ff0000"/>
<rect x="520" y="280" width="3" height="6" fill="#ff0000"/>
<rect x="525" y="252" width="1" height="42" fill="#ff0000"/>
<rect x="524" y="253" width="3" height="28" fill="#ff0000"/>
<rect x="529" y="213" width="1" height="44" fill="#ff0000"/>
<rect x="528" y="220" width="3" height="36" fill="#ff0000"/>
<rect x="533" y="201" width="1" height="29" fill="#ff0000"/>
<rect x="532" y="204" width="3" height="16" fill="#ff0000"/>
<rect x="537" y="198" width="1" height="12" fill="#ff0000"/>
<rect x="536" y="199" width="3" height="5" fill="#ff0000"/>
<rect x="541" y="188" width="1" height="27" fill="#00ff7f"/>
<rect x="540" y="202" width="3" height="8" fill="#00ff7f"/>
<rect x="545" y="202" width="1" height="23" fill="#00ff7f"/>
<rect x="544" y="210" width="3" height="4" fill="#00ff7f"/>
<rect x="549" y="204" width="1" height="33" fill="#00ff7f"/>
<rect x="548" y="213" width="3" height="16" fill="#00ff7f"/>
<rect x="553" y="199" width="1" height="45" fill="#00ff7f"/>
<rect x="552" y="228" width="3" height="13" fill="#00ff7f"/>
<rect x="557" y="224" width="1" height="28" fill="#00ff7f"/>
<rect x="556" y="239" width="3" height="12" fill="#00ff7f"/>
<rect x="561" y="250" width="1" height="7" fill="#00ff7f"/>
<rect x="560" y="250" width="3" height="4" fill="#00ff7f"/>
<rect x="565" y="234" width="1" height="21" fill="#ff0000"/>
<rect x="564" y="240" width="3" height="11" fill="#ff0000"/>
<rect x="569" y="227" width="1" height="30" fill="#ff0000"/>
<rect x="568" y="228" width="3" height="15" fill="#ff0000"/>
<rect x="573" y="221" width="1" height="20" fill="#ff0000"/>
<rect x="572" y="224" width="3" height="6" fill="#ff0000"/>
<rect x="577" y="190" width="1" height="62" fill="#ff0000"/>
<rect x="576" y="203" width="3" height="23" fill="#ff0000"/>
<rect x="581" y="192" width="1" height="14" fill="#ff0000"/>
<rect x="580" y="195" width="3" height="9" fill="#ff0000"/>
<rect x="585" y="193" width="1" height="9" fill="#00ff7f"/>
<rect x="584" y="195" width="3" height="4" fill="#00ff7f"/>
<rect x="589" y="190" width="1" height="20" fill="#00ff7f"/>
<rect x="588" y="197" width="3" height="8" fill="#00ff7f"/>
<rect x="593" y="202" width="1" height="59" fill="#00ff7f"/>
<rect x="592" y="204" width="3" height="53" fill="#00ff7f"/>
<rect x="597" y="243" width="1" height="20" fill="#ff0000"/>
<rect x="596" y="255" width="3" height="2" fill="#ff0000"/>
<rect x="601" y="244" width="1" height="36" fill="#00ff7f"/>
<rect x="600" y="256" width="3" height="18" fill="#00ff7f"/>
<rect x="605" y="267" width="1" height="24" fill="#00ff7f"/>
<rect x="604" y="273" width="3" height="16" fill="#00ff7f"/>
<rect x="609" y="288" width="1" height="5" fill="#00ff7f"/>
<rect x="608" y="289" width="3" height="2" fill="#00ff7f"/>
<rect x="613" y="275" width="1" height="18" fill="#ff0000"/>
<rect x="612" y="279" width="3" height="12" fill="#ff0000"/>
<rect x="617" y="276" width="1" height="25" fill="#00ff7f"/>
<rect x="616" y="281" width="3" height="15" fill="#00ff7f"/>
<rect x="621" y="292" width="1" height="12" fill="#00ff7f"/>
<rect x="620" y="295" width="3" height="2" fill="#00ff7f"/>
<rect x="625" y="291" width="1" height="20" fill="#00ff7f"/>
<rect x="624" y="296" width="3" height="5" fill="#00ff7f"/>
<rect x="629" y="268" width="1" height="36" fill="#ff0000"/>
<rect x="628" y="270" width="3" height="32" fill="#ff0000"/>
<rect x="633" y="266" width="1" height="10" fill="#ff0000"/>
<rect x="632" y="267" width="3" height="4" fill="#ff0000"/>
<rect x="637" y="249" width="1" height="22" fill="#ff0000"/>
<rect x="636" y="250" width="3" height="21" fill="#ff0000"/>
<rect x="641" y="245" width="1" height="19" fill="#00ff7f"/>
<rect x="640" y="250" width="3" height="3" fill="#00ff7f"/>
<rect x="645" y="250" width="1" height="20" fill="#00ff7f"/>
<rect x="644" y="251" width="3" height="8" fill="#00ff7f"/>
<rect x="649" y="241" width="1" height="24" fill="#ff0000"/>
<rect x="648" y="254" width="3" height="8" fill="#ff0000"/>
<rect x="653" y="247" width="1" height="37" fill="#00ff7f"/>
<rect x="652" y="254" width="3" height="28" fill="#00ff7f"/>
<rect x="657" y="280" width="1" height="10" fill="#00ff7f"/>
<rect x="656" y="281" width="3" height="6" fill="#00ff7f"/>
<rect x="661" y="282" width="1" height="18" fill="#00ff7f"/>
<rect x="660" y="289" width="3" height="7" fill="#00ff7f"/>
<rect x="665" y="287" width="1" height="14" fill="#00ff7f"/>
<rect x="664" y="295" width="3" height="3" fill="#00ff7f"/>
<rect x="669" y="294" width="1" height="15" fill="#00ff7f"/>
<rect x="668" y="295" width="3" height="9" fill="#00ff7f"/>
<rect x="673" y="291" width="1" height="17" fill="#ff0000"/>
<rect x="672" y="300" width="3" height="5" fill="#ff0000"/>
<rect x="677" y="285" width="1" height="31" fill="#ff0000"/>
<rect x="676" y="285" width="3" height="15" fill="#ff0000"/>
<rect x="681" y="285" width="1" height="10" fill="#00ff7f"/>
<rect x="680" y="285" width="3" height="9" fill="#00ff7f"/>
<rect x="685" y="254" width="1" height="47" fill="#ff0000"/>
<rect x="684" y="257" width="3" height="32" fill="#ff0000"/>
<rect x="689" y="246" width="1" height="15" fill="#ff0000"/>
<rect x="688" y="250" width="3" height="8" fill="#ff0000"/>
<rect x="693" y="228" width="1" height="33" fill="#ff0000"/>
<rect x="692" y="246" width="3" height="4" fill="#ff0000"/>
<rect x="697" y="236" width="1" height="20" fill="#ff0000"/>
<rect x="696" y="243" width="3" height="4" fill="#ff0000"/>
<rect x="701" y="232" width="1" height="46" fill="#00ff7f"/>
<rect x="700" y="242" width="3" height="29" fill="#00ff7f"/>
<rect x="705" y="267" width="1" height="7" fill="#ff0000"/>
<rect x="704" y="269" width="3" height="4" fill="#ff0000"/>
<rect x="709" y="253" width="1" height="17" fill="#ff0000"/>
<rect x="708" y="258" width="3" height="8" fill="#ff0000"/>
<rect x="713" y="244" width="1" height="23" fill="#ff0000"/>
<rect x="712" y="245" width="3" height="14" fill="#ff0000"/>
<rect x="717" y="240" width="1" height="18" fill="#00ff7f"/>
<rect x="716" y="245" width="3" height="5" fill="#00ff7f"/>
<rect x="721" y="204" width="1" height="47" fill="#ff0000"/>
<rect x="720" y="228" width="3" height="21" fill="#ff0000"/>
<rect x="725" y="175" width="1" height="63" fill="#ff0000"/>
<rect x="724" y="216" width="3" height="12" fill="#ff0000"/>
<rect x="729" y="214" width="1" height="18" fill="#00ff7f"/>
<rect x="728" y="216" width="3" height="11" fill="#00ff7f"/>
<rect x="733" y="201" width="1" height="22" fill="#ff0000"/>
<rect x="732" y="215" width="3" height="5" fill="#ff0000"/>
<rect x="737" y="191" width="1" height="27" fill="#ff0000"/>
<rect x="736" y="203" width="3" height="12" fill="#ff0000"/>
<rect x="741" y="202" width="1" height="30" fill="#00ff7f"/>
<rect x="740" y="203" width="3" height="20" fill="#00ff7f"/>
<rect x="745" y="210" width="1" height="25" fill="#00ff7f"/>
<rect x="744" y="222" width="3" height="8" fill="#00ff7f"/>
<rect x="749" y="219" width="1" height="30" fill="#00ff7f"/>
<rect x="748" y="229" width="3" height="19" fill="#00ff7f"/>
<rect x="753" y="246" width="1" height="15" fill="#00ff7f"/>
<rect x="752" y="248" width="3" height="12" fill="#00ff7f"/>
<rect x="757" y="242" width="1" height="17" fill="#ff0000"/>
<rect x="756" y="246" width="3" height="8" fill="#ff0000"/>
<rect x="761" y="243" width="1" height="17" fill="#ff0000"/>
<rect x="760" y="244" width="3" height="4" fill="#ff0000"/>
<rect x="765" y="243" width="1" height="7" fill="#00ff7f"/>
<rect x="764" y="245" width="3" height="4" fill="#00ff7f"/>
<rect x="769" y="239" width="1" height="11" fill="#ff0000"/>
<rect x="768" y="241" width="3" height="6" fill="#ff0000"/>
<rect x="773" y="188" width="1" height="56" fill="#ff0000"/>
<rect x="772" y="198" width="3" height="40" fill="#ff0000"/>
<rect x="777" y="184" width="1" height="17" fill="#ff0000"/>
<rect x="776" y="185" width="3" height="14" fill="#ff0000"/>
<rect x="781" y="168" width="1" height="23" fill="#ff0000"/>
<rect x="780" y="174" width="3" height="16" fill="#ff0000"/>
<rect x="785" y="150" width="1" height="28" fill="#ff0000"/>
<rect x="784" y="159" width="3" height="14" fill="#ff0000"/>
<rect x="789" y="155" width="1" height="11" fill="#00ff7f"/>
<rect x="788" y="160" width="3" height="4" fill="#00ff7f"/>
<rect x="793" y="159" width="1" height="36" fill="#00ff7f"/>
<rect x="792" y="165" width="3" height="7" fill="#00ff7f"/>
<rect x="797" y="173" width="1" height="51" fill="#00ff7f"/>
<rect x="796" y="174" width="3" height="25" fill="#00ff7f"/>
<rect x="801" y="188" width="1" height="12" fill="#ff0000"/>
<rect x="800" y="196" width="3" height="3" fill="#ff0000"/>
<rect x="805" y="171" width="1" height="32" fill="#ff0000"/>
<rect x="804" y="182" width="3" height="19" fill="#ff0000"/>
<rect x="809" y="176" width="1" height="42" fill="#00ff7f"/>
<rect x="808" y="182" width="3" height="27" fill="#00ff7f"/>
<rect x="813" y="195" width="1" height="37" fill="#00ff7f"/>
<rect x="812" y="209" width="3" height="18" fill="#00ff7f"/>
<rect x="817" y="222" width="1" height="22" fill="#00ff7f"/>
<rect x="816" y="226" width="3" height="10" fill="#00ff7f"/>
<rect x="821" y="227" width="1" height="22" fill="#ff0000"/>
<rect x="820" y="231" width="3" height="6" fill="#ff0000"/>
<rect x="825" y="220" width="1" height="13" fill="#ff0000"/>
<rect x="824" y="224" width="3" height="7" fill="#ff0000"/>
<rect x="829" y="214" width="1" height="18" fill="#ff0000"/>
<rect x="828" y="217" width="3" height="12" fill="#ff0000"/>
<rect x="833" y="209" width="1" height="27" fill="#00ff7f"/>
<rect x="832" y="218" width="3" height="8" fill="#00ff7f"/>
<rect x="837" y="198" width="1" height="30" fill="#ff0000"/>
<rect x="836" y="206" width="3" height="20" fill="#ff0000"/>
<rect x="841" y="192" width="1" height="26" fill="#00ff7f"/>
<rect x="840" y="206" width="3" height="7" fill="#00ff7f"/>
<rect x="845" y="210" width="1" height="38" fill="#00ff7f"/>
<rect x="844" y="212" width="3" height="32" fill="#00ff7f"/>
<rect x="849" y="241" width="1" height="6" fill="#00ff7f"/>
<rect x="848" y="243" width="3" height="1" fill="#00ff7f"/>
<rect x="853" y="240" width="1" height="15" fill="#00ff7f"/>
<rect x="852" y="245" width="3" height="6" fill="#00ff7f"/>
<rect x="857" y="227" width="1" height="25" fill="#ff0000"/>
<rect x="856" y="240" width="3" height="11" fill="#ff0000"/>
<rect x="861" y="239" width="1" height="20" fill="#00ff7f"/>
<rect x="860" y="240" width="3" height="15" fill="#00ff7f"/>
<rect x="865" y="233" width="1" height="45" fill="#00ff7f"/>
<rect x="864" y="254" width="3" height="20" fill="#00ff7f"/>
<rect x="869" y="263" width="1" height="26" fill="#00ff7f"/>
<rect x="868" y="273" width="3" height="15" fill="#00ff7f"/>
<rect x="873" y="282" width="1" height="8" fill="#ff0000"/>
<rect x="872" y="284" width="3" height="4" fill="#ff0000"/>
<rect x="877" y="281" width="1" height="7" fill="#ff0000"/>
<rect x="876" y="282" width="3" height="3" fill="#ff0000"/>
</g>
<g shape-rendering="crispEdges">
<rect x="5" y="118" width="1102" height="2" fill="#ff0000"/>
<rect x="5" y="173" width="1102" height="2" fill="#ff0000"/>
<rect x="4" y="171" width="6" height="6" fill="#ff0000"/>
<rect x="6" y="173" width="2" height="2" fill="#fff"/>
<rect x="1102" y="171" width="6" height="6" fill="#ff0000"/>
<rect x="1104" y="173" width="2" height="2" fill="#fff"/>
<rect x="5" y="237" width="1102" height="2" fill="#32cd32"/>
<rect x="4" y="235" width="6" height="6" fill="#32cd32"/>
<rect x="6" y="237" width="2" height="2" fill="#fff"/>
<rect x="1102" y="235" width="6" height="6" fill="#32cd32"/>
<rect x="1104" y="237" width="2" height="2" fill="#fff"/>
<rect x="5" y="301" width="1102" height="2" fill="#0000cd"/>
<rect x="5" y="378" width="1102" height="2" fill="#0000cd"/>
<rect x="4" y="376" width="6" height="6" fill="#0000cd"/>
<rect x="6" y="378" width="2" height="2" fill="#fff"/>
<rect x="1102" y="376" width="6" height="6" fill="#0000cd"/>
<rect x="1104" y="378" width="2" height="2" fill="#fff"/>
</g>
<path d="M153 104h7v1h-7zM152 105h1v1h-1zM160 105h2v1h-2zM151 106h1v1h-1zM162 106h2v1h-2zM150 107h1v1h-1zM164 107h8v1h-8zM149 108h1v1h-1zM172 108h1v1h-1zM148 109h1v1h-1zM173 109h2v1h-2zM147 110h1v2h-1zM175 110h1v1h-1zM201 110h2v1h-2zM176 111h1v1h-1zM197 111h4v1h-4zM203 111h2v1h-2zM146 112h1v1h-1zM177 112h1v1h-1zM193 112h4v1h-4zM205 112h1v1h-1zM145 113h1v1h-1zM178 113h2v1h-2zM191 113h2v1h-2zM206 113h2v1h-2zM144 114h1v1h-1zM180 114h1v1h-1zM189 114h2v1h-2zM208 114h1v1h-1zM143 115h1v1h-1zM181 115h8v1h-8zM209 115h1v1h-1zM142 116h1v1h-1zM210 116h2v1h-2zM141 117h1v2h-1zM212 117h1v1h-1zM213 118h1v1h-1zM140 119h1v2h-1zM214 119h1v1h-1zM215 120h1v2h-1zM139 121h1v2h-1zM216 122h1v1h-1zM138 123h1v1h-1zM217 123h1v1h-1zM137 124h1v2h-1zM218 124h1v1h-1zM219 125h1v1h-1zM136 126h1v2h-1zM220 126h1v1h-1zM221 127h1v2h-1zM135 128h1v2h-1zM222 129h1v1h-1zM134 130h1v1h-1zM223 130h1v1h-1zM133 131h1v2h-1zM224 131h1v1h-1zM225 132h1v2h-1zM132 133h1v2h-1zM226 134h1v2h-1zM131 135h1v2h-1zM227 136h1v1h-1zM130 137h1v1h-1zM228 137h1v2h-1zM129 138h1v2h-1zM229 139h1v2h-1zM128 140h1v2h-1zM230 141h1v1h-1zM127 142h1v1h-1zM231 142h1v2h-1zM126 143h1v2h-1zM232 144h1v2h-1zM125 145h1v2h-1zM233 146h1v1h-1zM124 147h1v2h-1zM234 147h1v2h-1zM123 149h1v1h-1zM235 149h1v2h-1zM121 150h2v1h-2zM120 151h1v1h-1zM236 151h1v1h-1zM118 152h2v1h-2zM237 152h1v1h-1zM114 153h4v1h-4zM238 153h1v1h-1zM108 154h6v1h-6zM239 154h1v2h-1zM105 155h3v1h-3zM101 156h4v1h-4zM240 156h1v1h-1zM99 157h2v1h-2zM241 157h1v1h-1zM98 158h1v1h-1zM242 158h1v1h-1zM97 159h1v1h-1zM243 159h1v1h-1zM95 160h2v1h-2zM244 160h1v2h-1zM94 161h1v1h-1zM93 162h1v1h-1zM245 162h1v1h-1zM92 163h1v1h-1zM246 163h1v1h-1zM91 164h1v1h-1zM247 164h1v1h-1zM90 165h1v1h-1zM248 165h1v1h-1zM89 166h1v1h-1zM249 166h1v2h-1zM88 167h1v1h-1zM87 168h1v2h-1zM250 168h1v1h-1zM251 169h1v1h-1zM86 170h1v1h-1zM252 170h1v1h-1zM85 171h1v1h-1zM253 171h2v1h-2zM84 172h1v1h-1zM255 172h2v1h-2zM83 173h1v1h-1zM257 173h2v1h-2zM82 174h1v1h-1zM259 174h1v1h-1zM81 175h1v1h-1zM260 175h1v1h-1zM80 176h1v1h-1zM261 176h1v1h-1zM79 177h1v2h-1zM262 177h1v1h-1zM5 178h3v1h-3zM14 178h22v1h-22zM263 178h1v1h-1zM8 179h6v1h-6zM36 179h7v1h-7zM78 179h1v1h-1zM264 179h1v1h-1zM43 180h2v1h-2zM77 180h1v1h-1zM265 180h1v1h-1zM45 181h2v1h-2zM76 181h1v1h-1zM266 181h1v1h-1zM47 182h2v1h-2zM74 182h2v1h-2zM267 182h1v1h-1zM49 183h4v1h-4zM72 183h2v1h-2zM268 183h1v1h-1zM53 184h6v1h-6zM70 184h2v1h-2zM269 184h1v1h-1zM59 185h11v1h-11zM270 185h1v1h-1zM271 186h1v1h-1zM272 187h1v1h-1zM273 188h2v1h-2zM275 189h3v1h-3zM278 190h2v1h-2zM280 191h3v1h-3zM283 192h3v1h-3zM286 193h2v1h-2zM288 194h8v1h-8zM296 195h7v1h-7zM303 196h4v1h-4zM307 197h2v1h-2zM309 198h1v1h-1zM310 199h1v1h-1zM311 200h1v1h-1zM312 201h2v1h-2zM314 202h2v1h-2zM316 203h2v1h-2zM318 204h2v1h-2zM320 205h3v1h-3zM323 206h2v1h-2zM325 207h3v1h-3zM840 207h15v1h-15zM328 208h4v1h-4zM349 208h3v1h-3zM838 208h2v1h-2zM855 208h2v1h-2zM332 209h4v1h-4zM347 209h2v1h-2zM352 209h4v1h-4zM836 209h2v1h-2zM857 209h1v1h-1zM336 210h11v1h-11zM356 210h2v1h-2zM834 210h2v1h-2zM858 210h2v1h-2zM358 211h1v1h-1zM804 211h12v1h-12zM832 211h2v1h-2zM860 211h1v1h-1zM359 212h1v1h-1zM802 212h2v1h-2zM816 212h4v1h-4zM830 212h2v1h-2zM861 212h1v1h-1zM360 213h1v1h-1zM800 213h2v1h-2zM820 213h10v1h-10zM862 213h1v1h-1zM361 214h1v1h-1zM798 214h2v1h-2zM863 214h1v2h-1zM362 215h1v1h-1zM796 215h2v1h-2zM363 216h1v1h-1zM795 216h1v1h-1zM864 216h1v1h-1zM364 217h1v2h-1zM794 217h1v1h-1zM865 217h1v1h-1zM793 218h1v1h-1zM866 218h1v1h-1zM365 219h1v2h-1zM791 219h2v1h-2zM867 219h1v1h-1zM790 220h1v1h-1zM868 220h1v2h-1zM366 221h1v2h-1zM789 221h1v1h-1zM788 222h1v1h-1zM869 222h1v1h-1zM367 223h1v2h-1zM787 223h1v1h-1zM870 223h1v2h-1zM786 224h1v2h-1zM368 225h1v2h-1zM871 225h1v2h-1zM785 226h1v1h-1zM369 227h1v2h-1zM784 227h1v1h-1zM872 227h1v1h-1zM783 228h1v2h-1zM873 228h1v2h-1zM370 229h1v2h-1zM597 230h10v1h-10zM782 230h1v1h-1zM874 230h1v1h-1zM371 231h1v2h-1zM593 231h4v1h-4zM607 231h2v1h-2zM781 231h1v1h-1zM875 231h1v2h-1zM590 232h3v1h-3zM609 232h2v1h-2zM780 232h1v1h-1zM372 233h1v2h-1zM589 233h1v1h-1zM611 233h2v1h-2zM779 233h1v1h-1zM876 233h1v1h-1zM588 234h1v1h-1zM613 234h1v1h-1zM778 234h1v1h-1zM373 235h1v2h-1zM587 235h1v1h-1zM614 235h1v2h-1zM776 235h2v1h-2zM586 236h1v1h-1zM775 236h1v1h-1zM374 237h1v2h-1zM585 237h1v1h-1zM615 237h1v1h-1zM774 237h1v1h-1zM584 238h1v1h-1zM616 238h1v1h-1zM772 238h2v1h-2zM375 239h1v2h-1zM583 239h1v1h-1zM617 239h1v2h-1zM770 239h2v1h-2zM582 240h1v2h-1zM768 240h2v1h-2zM376 241h1v2h-1zM618 241h1v1h-1zM766 241h2v1h-2zM581 242h1v1h-1zM619 242h1v1h-1zM764 242h2v1h-2zM377 243h1v2h-1zM580 243h1v2h-1zM620 243h1v2h-1zM761 243h3v1h-3zM759 244h2v1h-2zM378 245h1v1h-1zM579 245h1v2h-1zM621 245h1v1h-1zM757 245h2v1h-2zM379 246h1v1h-1zM622 246h2v1h-2zM755 246h2v1h-2zM380 247h1v2h-1zM578 247h1v1h-1zM624 247h1v1h-1zM753 247h2v1h-2zM577 248h1v2h-1zM625 248h2v1h-2zM751 248h2v1h-2zM381 249h1v1h-1zM627 249h2v1h-2zM750 249h1v1h-1zM382 250h1v1h-1zM576 250h1v1h-1zM629 250h1v1h-1zM748 250h2v1h-2zM383 251h1v2h-1zM575 251h1v1h-1zM630 251h2v1h-2zM747 251h1v1h-1zM574 252h1v1h-1zM632 252h3v1h-3zM746 252h1v1h-1zM384 253h1v1h-1zM573 253h1v1h-1zM635 253h5v1h-5zM744 253h2v1h-2zM385 254h1v1h-1zM572 254h1v1h-1zM640 254h10v1h-10zM743 254h1v1h-1zM386 255h1v1h-1zM571 255h1v1h-1zM650 255h1v1h-1zM741 255h2v1h-2zM387 256h1v1h-1zM570 256h1v1h-1zM651 256h1v1h-1zM740 256h1v1h-1zM388 257h1v1h-1zM569 257h1v2h-1zM652 257h2v1h-2zM739 257h1v1h-1zM389 258h1v1h-1zM654 258h1v1h-1zM737 258h2v1h-2zM390 259h1v1h-1zM568 259h1v1h-1zM655 259h1v1h-1zM736 259h1v1h-1zM391 260h1v1h-1zM567 260h1v1h-1zM656 260h1v1h-1zM735 260h1v1h-1zM392 261h2v1h-2zM566 261h1v1h-1zM657 261h1v1h-1zM733 261h2v1h-2zM394 262h2v1h-2zM565 262h1v1h-1zM658 262h1v1h-1zM732 262h1v1h-1zM396 263h2v1h-2zM564 263h1v1h-1zM659 263h1v1h-1zM730 263h2v1h-2zM398 264h2v1h-2zM563 264h1v1h-1zM660 264h1v1h-1zM728 264h2v1h-2zM400 265h2v1h-2zM562 265h1v1h-1zM661 265h1v2h-1zM726 265h2v1h-2zM402 266h2v1h-2zM561 266h1v1h-1zM724 266h2v1h-2zM404 267h2v1h-2zM560 267h1v1h-1zM662 267h1v1h-1zM722 267h2v1h-2zM406 268h3v1h-3zM559 268h1v1h-1zM663 268h1v1h-1zM718 268h4v1h-4zM409 269h5v1h-5zM558 269h1v1h-1zM664 269h1v1h-1zM713 269h5v1h-5zM414 270h3v1h-3zM557 270h1v2h-1zM665 270h1v1h-1zM709 270h4v1h-4zM417 271h2v1h-2zM666 271h1v1h-1zM707 271h2v1h-2zM419 272h1v1h-1zM556 272h1v1h-1zM667 272h1v1h-1zM705 272h2v1h-2zM420 273h2v1h-2zM555 273h1v1h-1zM668 273h1v1h-1zM702 273h3v1h-3zM422 274h2v1h-2zM554 274h1v1h-1zM669 274h1v1h-1zM700 274h2v1h-2zM424 275h1v1h-1zM553 275h1v1h-1zM670 275h1v1h-1zM698 275h2v1h-2zM425 276h2v1h-2zM552 276h1v1h-1zM671 276h1v1h-1zM695 276h3v1h-3zM427 277h1v1h-1zM551 277h1v2h-1zM672 277h1v1h-1zM693 277h2v1h-2zM428 278h2v1h-2zM673 278h2v1h-2zM691 278h2v1h-2zM430 279h2v1h-2zM550 279h1v1h-1zM675 279h2v1h-2zM689 279h2v1h-2zM432 280h1v1h-1zM549 280h1v2h-1zM677 280h2v1h-2zM686 280h3v1h-3zM433 281h2v1h-2zM679 281h2v1h-2zM684 281h2v1h-2zM435 282h2v1h-2zM548 282h1v1h-1zM681 282h3v1h-3zM437 283h2v1h-2zM547 283h1v2h-1zM439 284h3v1h-3zM442 285h3v1h-3zM546 285h1v1h-1zM445 286h5v1h-5zM545 286h1v2h-1zM450 287h6v1h-6zM456 288h4v1h-4zM544 288h1v1h-1zM460 289h2v1h-2zM543 289h1v2h-1zM462 290h2v1h-2zM464 291h2v1h-2zM542 291h1v2h-1zM466 292h1v1h-1zM467 293h1v1h-1zM541 293h1v2h-1zM468 294h1v1h-1zM469 295h2v1h-2zM540 295h1v1h-1zM471 296h1v1h-1zM539 296h1v1h-1zM472 297h1v1h-1zM538 297h1v1h-1zM473 298h1v1h-1zM537 298h1v1h-1zM474 299h1v1h-1zM536 299h1v1h-1zM475 300h2v1h-2zM535 300h1v2h-1zM477 301h2v1h-2zM479 302h1v1h-1zM534 302h1v2h-1zM480 303h2v1h-2zM482 304h2v1h-2zM533 304h1v2h-1zM484 305h2v1h-2zM486 306h2v1h-2zM532 306h1v2h-1zM488 307h2v1h-2zM490 308h2v1h-2zM531 308h1v2h-1zM492 309h2v1h-2zM494 310h2v1h-2zM530 310h1v1h-1zM496 311h1v1h-1zM529 311h1v1h-1zM497 312h1v1h-1zM527 312h2v1h-2zM498 313h2v1h-2zM526 313h1v1h-1zM500 314h1v1h-1zM525 314h1v1h-1zM501 315h10v1h-10zM523 315h2v1h-2zM511 316h4v1h-4zM519 316h4v1h-4zM515 317h4v1h-4z" fill="#0000cd" shape-rendering="crispEdges"/>
<path d="M148 58h2v1h-2zM145 59h3v1h-3zM150 59h1v1h-1zM144 60h1v2h-1zM151 60h2v1h-2zM153 61h1v1h-1zM143 62h1v2h-1zM154 62h1v2h-1zM142 64h1v2h-1zM155 64h1v3h-1zM141 66h1v4h-1zM156 67h1v3h-1zM140 70h1v4h-1zM157 70h1v2h-1zM158 72h1v3h-1zM139 74h1v5h-1zM159 75h1v3h-1zM160 78h1v3h-1zM138 79h1v4h-1zM161 81h1v3h-1zM137 83h1v4h-1zM162 84h1v3h-1zM136 87h1v5h-1zM163 87h1v3h-1zM164 90h1v3h-1zM135 92h1v4h-1zM165 93h1v2h-1zM166 95h1v3h-1zM134 96h1v5h-1zM93 97h1v1h-1zM92 98h1v1h-1zM94 98h1v2h-1zM167 98h1v3h-1zM90 99h2v1h-2zM89 100h1v1h-1zM95 100h1v1h-1zM88 101h1v2h-1zM96 101h1v2h-1zM133 101h1v4h-1zM168 101h1v3h-1zM87 103h1v2h-1zM97 103h1v2h-1zM169 104h1v3h-1zM86 105h1v2h-1zM98 105h1v4h-1zM132 105h1v5h-1zM85 107h1v2h-1zM170 107h1v4h-1zM84 109h1v3h-1zM99 109h1v3h-1zM131 110h1v6h-1zM171 111h1v4h-1zM83 112h1v2h-1zM100 112h1v4h-1zM82 114h1v2h-1zM172 115h1v3h-1zM81 116h1v3h-1zM101 116h1v4h-1zM130 116h1v5h-1zM173 118h1v4h-1zM80 119h1v4h-1zM102 120h1v3h-1zM129 121h1v5h-1zM174 122h1v4h-1zM79 123h1v4h-1zM103 123h1v4h-1zM128 126h1v6h-1zM175 126h1v4h-1zM78 127h1v4h-1zM104 127h1v3h-1zM105 130h1v3h-1zM176 130h1v4h-1zM77 131h1v4h-1zM127 132h1v5h-1zM106 133h1v3h-1zM177 134h1v4h-1zM76 135h1v4h-1zM205 135h1v1h-1zM107 136h1v2h-1zM204 136h1v2h-1zM206 136h1v2h-1zM126 137h1v6h-1zM108 138h1v3h-1zM178 138h1v3h-1zM203 138h1v2h-1zM207 138h1v1h-1zM75 139h1v4h-1zM208 139h1v2h-1zM202 140h1v2h-1zM109 141h1v3h-1zM179 141h1v3h-1zM209 141h1v1h-1zM201 142h1v2h-1zM210 142h1v2h-1zM74 143h1v11h-1zM125 143h1v3h-1zM110 144h1v2h-1zM180 144h1v2h-1zM200 144h1v2h-1zM211 144h2v1h-2zM213 145h2v1h-2zM111 146h1v3h-1zM124 146h1v2h-1zM181 146h1v3h-1zM199 146h1v2h-1zM215 146h2v1h-2zM217 147h1v1h-1zM123 148h1v1h-1zM198 148h1v2h-1zM218 148h1v2h-1zM112 149h1v3h-1zM122 149h1v2h-1zM182 149h1v2h-1zM197 150h1v2h-1zM219 150h1v2h-1zM121 151h1v2h-1zM183 151h1v2h-1zM113 152h1v2h-1zM196 152h1v1h-1zM220 152h1v2h-1zM120 153h1v4h-1zM184 153h1v1h-1zM195 153h1v2h-1zM73 154h1v10h-1zM114 154h1v3h-1zM185 154h1v1h-1zM221 154h1v1h-1zM186 155h1v2h-1zM194 155h1v1h-1zM222 155h1v2h-1zM192 156h2v1h-2zM115 157h1v2h-1zM119 157h1v4h-1zM187 157h1v1h-1zM190 157h2v1h-2zM223 157h1v2h-1zM188 158h2v1h-2zM116 159h1v2h-1zM224 159h1v2h-1zM228 160h3v1h-3zM117 161h2v1h-2zM225 161h3v1h-3zM230 161h1v1h-1zM117 162h2v1h-2zM231 162h1v3h-1zM118 163h1v1h-1zM72 164h1v3h-1zM300 164h2v1h-2zM232 165h1v3h-1zM297 165h3v1h-3zM302 165h1v2h-1zM295 166h2v1h-2zM71 167h1v4h-1zM294 167h1v2h-1zM303 167h1v1h-1zM233 168h1v2h-1zM304 168h1v2h-1zM293 169h1v2h-1zM234 170h1v3h-1zM305 170h1v2h-1zM70 171h1v3h-1zM292 171h1v3h-1zM793 171h1v1h-1zM306 172h1v2h-1zM792 172h1v2h-1zM794 172h2v1h-2zM235 173h1v3h-1zM796 173h2v1h-2zM69 174h1v3h-1zM291 174h1v4h-1zM307 174h1v2h-1zM791 174h1v1h-1zM798 174h1v1h-1zM790 175h1v1h-1zM799 175h1v1h-1zM236 176h1v2h-1zM308 176h1v2h-1zM789 176h1v2h-1zM800 176h1v1h-1zM5 177h1v1h-1zM68 177h1v3h-1zM801 177h1v2h-1zM6 178h1v2h-1zM237 178h1v3h-1zM290 178h1v3h-1zM309 178h1v2h-1zM788 178h1v2h-1zM802 179h1v1h-1zM7 180h1v2h-1zM67 180h1v4h-1zM310 180h1v2h-1zM787 180h1v4h-1zM803 180h1v1h-1zM238 181h1v2h-1zM289 181h1v3h-1zM804 181h1v2h-1zM8 182h1v1h-1zM41 182h1v1h-1zM311 182h1v3h-1zM9 183h1v2h-1zM39 183h2v1h-2zM42 183h1v1h-1zM239 183h1v2h-1zM805 183h1v2h-1zM37 184h2v1h-2zM43 184h1v1h-1zM66 184h1v3h-1zM288 184h1v4h-1zM786 184h1v4h-1zM10 185h1v1h-1zM35 185h2v1h-2zM44 185h1v1h-1zM240 185h1v3h-1zM312 185h1v4h-1zM806 185h1v2h-1zM11 186h1v2h-1zM34 186h1v1h-1zM45 186h1v1h-1zM33 187h1v2h-1zM46 187h1v1h-1zM65 187h1v3h-1zM807 187h1v2h-1zM12 188h1v2h-1zM47 188h1v2h-1zM241 188h1v2h-1zM287 188h1v3h-1zM785 188h1v4h-1zM32 189h1v1h-1zM313 189h1v4h-1zM808 189h1v2h-1zM13 190h1v1h-1zM31 190h1v1h-1zM48 190h1v2h-1zM64 190h1v2h-1zM242 190h1v3h-1zM14 191h1v1h-1zM30 191h1v2h-1zM286 191h1v4h-1zM809 191h1v3h-1zM15 192h1v1h-1zM49 192h1v2h-1zM63 192h1v3h-1zM784 192h1v4h-1zM16 193h1v1h-1zM29 193h1v1h-1zM243 193h1v3h-1zM314 193h1v4h-1zM17 194h1v2h-1zM28 194h1v1h-1zM50 194h1v2h-1zM810 194h1v3h-1zM27 195h1v2h-1zM62 195h1v3h-1zM285 195h1v3h-1zM18 196h1v1h-1zM51 196h1v2h-1zM244 196h1v3h-1zM783 196h1v4h-1zM19 197h1v1h-1zM25 197h2v1h-2zM315 197h1v4h-1zM811 197h1v3h-1zM20 198h1v1h-1zM23 198h2v1h-2zM52 198h1v2h-1zM61 198h1v2h-1zM284 198h1v4h-1zM21 199h2v1h-2zM245 199h1v3h-1zM53 200h1v2h-1zM60 200h1v2h-1zM782 200h1v4h-1zM812 200h1v2h-1zM58 201h2v1h-2zM316 201h1v4h-1zM54 202h4v1h-4zM246 202h1v3h-1zM283 202h1v4h-1zM813 202h1v3h-1zM781 204h1v4h-1zM247 205h1v3h-1zM317 205h1v3h-1zM589 205h1v1h-1zM814 205h1v2h-1zM282 206h1v3h-1zM588 206h1v1h-1zM590 206h1v2h-1zM587 207h1v2h-1zM815 207h1v2h-1zM248 208h1v3h-1zM318 208h1v4h-1zM591 208h1v2h-1zM780 208h1v4h-1zM281 209h1v4h-1zM586 209h1v1h-1zM816 209h1v1h-1zM546 210h1v1h-1zM585 210h1v1h-1zM592 210h1v1h-1zM817 210h1v2h-1zM249 211h1v2h-1zM545 211h1v1h-1zM547 211h2v1h-2zM584 211h1v2h-1zM593 211h1v2h-1zM250 212h2v1h-2zM319 212h1v3h-1zM544 212h1v2h-1zM549 212h1v1h-1zM779 212h1v4h-1zM818 212h1v2h-1zM252 213h4v1h-4zM280 213h1v4h-1zM550 213h1v2h-1zM583 213h1v2h-1zM594 213h1v2h-1zM256 214h3v1h-3zM543 214h1v1h-1zM819 214h1v1h-1zM259 215h2v1h-2zM320 215h1v3h-1zM542 215h1v1h-1zM551 215h1v2h-1zM582 215h1v2h-1zM595 215h1v3h-1zM820 215h1v2h-1zM261 216h1v1h-1zM541 216h1v2h-1zM740 216h2v1h-2zM778 216h1v5h-1zM262 217h1v2h-1zM279 217h1v4h-1zM552 217h1v3h-1zM581 217h1v2h-1zM739 217h1v1h-1zM742 217h2v1h-2zM821 217h1v1h-1zM841 217h1v1h-1zM321 218h1v4h-1zM540 218h1v2h-1zM596 218h1v2h-1zM738 218h1v1h-1zM744 218h2v1h-2zM822 218h1v2h-1zM840 218h1v1h-1zM842 218h1v1h-1zM263 219h1v2h-1zM580 219h1v3h-1zM737 219h1v1h-1zM746 219h1v1h-1zM839 219h1v2h-1zM843 219h1v1h-1zM539 220h1v4h-1zM553 220h1v2h-1zM597 220h1v3h-1zM736 220h1v1h-1zM747 220h1v2h-1zM823 220h1v2h-1zM844 220h2v1h-2zM264 221h1v2h-1zM278 221h1v2h-1zM735 221h1v1h-1zM777 221h1v4h-1zM838 221h1v1h-1zM846 221h1v1h-1zM322 222h1v3h-1zM554 222h1v2h-1zM579 222h1v2h-1zM734 222h1v1h-1zM748 222h1v2h-1zM824 222h1v1h-1zM837 222h1v1h-1zM847 222h1v1h-1zM265 223h1v2h-1zM277 223h1v2h-1zM598 223h1v3h-1zM733 223h1v2h-1zM825 223h1v2h-1zM836 223h1v1h-1zM848 223h1v1h-1zM538 224h1v4h-1zM555 224h1v3h-1zM578 224h1v2h-1zM749 224h1v2h-1zM835 224h1v1h-1zM849 224h1v2h-1zM266 225h1v1h-1zM276 225h1v2h-1zM323 225h1v3h-1zM732 225h1v2h-1zM776 225h1v4h-1zM826 225h1v2h-1zM834 225h1v1h-1zM267 226h1v1h-1zM577 226h1v3h-1zM599 226h1v2h-1zM750 226h1v2h-1zM833 226h1v1h-1zM850 226h1v1h-1zM268 227h1v1h-1zM275 227h1v2h-1zM350 227h4v1h-4zM556 227h1v2h-1zM731 227h1v2h-1zM827 227h6v1h-6zM851 227h1v2h-1zM269 228h1v1h-1zM324 228h1v3h-1zM348 228h2v1h-2zM354 228h4v1h-4zM537 228h1v3h-1zM600 228h1v4h-1zM751 228h1v2h-1zM270 229h1v1h-1zM274 229h1v2h-1zM347 229h1v1h-1zM357 229h1v1h-1zM557 229h1v2h-1zM576 229h1v3h-1zM730 229h1v2h-1zM775 229h1v5h-1zM852 229h1v1h-1zM271 230h1v1h-1zM346 230h1v1h-1zM358 230h1v2h-1zM752 230h1v2h-1zM853 230h1v2h-1zM272 231h2v1h-2zM325 231h1v4h-1zM344 231h2v1h-2zM536 231h1v4h-1zM558 231h1v2h-1zM729 231h1v2h-1zM273 232h1v1h-1zM343 232h1v1h-1zM359 232h1v2h-1zM575 232h1v4h-1zM601 232h1v5h-1zM753 232h1v2h-1zM854 232h1v2h-1zM342 233h1v2h-1zM559 233h1v2h-1zM728 233h1v2h-1zM360 234h1v2h-1zM754 234h1v2h-1zM774 234h1v4h-1zM855 234h1v2h-1zM326 235h1v3h-1zM341 235h1v2h-1zM535 235h1v4h-1zM560 235h1v2h-1zM727 235h1v2h-1zM361 236h1v5h-1zM574 236h1v3h-1zM755 236h1v2h-1zM856 236h1v2h-1zM340 237h1v2h-1zM561 237h1v1h-1zM602 237h1v5h-1zM726 237h1v2h-1zM327 238h1v2h-1zM562 238h1v1h-1zM756 238h1v2h-1zM773 238h1v3h-1zM857 238h1v1h-1zM328 239h1v1h-1zM339 239h1v2h-1zM534 239h1v3h-1zM563 239h1v1h-1zM573 239h1v2h-1zM725 239h1v2h-1zM858 239h1v2h-1zM329 240h2v1h-2zM564 240h1v1h-1zM570 240h3v1h-3zM757 240h1v2h-1zM331 241h5v1h-5zM338 241h1v2h-1zM362 241h1v7h-1zM565 241h5v1h-5zM724 241h1v2h-1zM772 241h1v2h-1zM859 241h1v1h-1zM336 242h2v1h-2zM533 242h1v4h-1zM603 242h1v5h-1zM758 242h1v2h-1zM860 242h1v2h-1zM723 243h1v2h-1zM771 243h1v2h-1zM759 244h1v1h-1zM861 244h1v1h-1zM722 245h1v2h-1zM760 245h1v1h-1zM770 245h1v1h-1zM862 245h1v2h-1zM532 246h1v3h-1zM761 246h1v2h-1zM769 246h1v1h-1zM604 247h1v5h-1zM721 247h1v2h-1zM768 247h1v1h-1zM863 247h1v2h-1zM363 248h1v6h-1zM762 248h1v1h-1zM767 248h1v1h-1zM531 249h1v4h-1zM720 249h1v2h-1zM763 249h2v1h-2zM766 249h1v1h-1zM864 249h1v2h-1zM765 250h1v1h-1zM719 251h1v2h-1zM865 251h1v2h-1zM605 252h1v4h-1zM530 253h1v3h-1zM718 253h1v2h-1zM866 253h1v2h-1zM364 254h1v7h-1zM701 254h2v1h-2zM700 255h1v2h-1zM703 255h3v1h-3zM717 255h1v2h-1zM867 255h1v2h-1zM529 256h1v4h-1zM606 256h1v4h-1zM706 256h2v1h-2zM650 257h1v1h-1zM699 257h1v1h-1zM708 257h5v1h-5zM716 257h1v2h-1zM868 257h1v2h-1zM648 258h2v1h-2zM651 258h1v1h-1zM698 258h1v1h-1zM713 258h3v1h-3zM646 259h2v1h-2zM652 259h2v1h-2zM697 259h1v2h-1zM869 259h1v3h-1zM528 260h1v3h-1zM607 260h1v4h-1zM645 260h1v1h-1zM654 260h1v1h-1zM365 261h1v6h-1zM644 261h1v2h-1zM655 261h1v2h-1zM696 261h1v1h-1zM695 262h1v2h-1zM870 262h1v2h-1zM527 263h1v4h-1zM643 263h1v2h-1zM656 263h1v2h-1zM608 264h1v4h-1zM694 264h1v2h-1zM871 264h1v2h-1zM642 265h1v2h-1zM657 265h1v2h-1zM693 266h1v2h-1zM872 266h1v2h-1zM366 267h1v4h-1zM428 267h1v1h-1zM526 267h1v3h-1zM641 267h1v2h-1zM658 267h1v2h-1zM427 268h1v1h-1zM429 268h1v2h-1zM609 268h1v3h-1zM692 268h1v3h-1zM873 268h1v2h-1zM426 269h1v1h-1zM640 269h1v2h-1zM659 269h1v2h-1zM415 270h2v1h-2zM425 270h1v1h-1zM430 270h1v1h-1zM525 270h1v4h-1zM874 270h1v2h-1zM367 271h1v4h-1zM412 271h3v1h-3zM417 271h1v1h-1zM424 271h1v1h-1zM431 271h1v2h-1zM610 271h1v2h-1zM639 271h1v2h-1zM660 271h1v2h-1zM691 271h1v3h-1zM410 272h2v1h-2zM418 272h2v1h-2zM423 272h1v1h-1zM875 272h1v2h-1zM409 273h1v2h-1zM420 273h1v1h-1zM422 273h1v1h-1zM432 273h1v1h-1zM611 273h1v2h-1zM638 273h1v1h-1zM661 273h1v2h-1zM421 274h1v1h-1zM433 274h1v2h-1zM524 274h1v3h-1zM637 274h1v2h-1zM690 274h1v2h-1zM876 274h1v2h-1zM368 275h1v3h-1zM408 275h1v2h-1zM612 275h1v2h-1zM662 275h1v2h-1zM434 276h1v1h-1zM636 276h1v2h-1zM689 276h1v3h-1zM400 277h1v1h-1zM407 277h1v2h-1zM435 277h1v1h-1zM523 277h1v4h-1zM613 277h1v2h-1zM663 277h1v2h-1zM369 278h1v4h-1zM399 278h1v2h-1zM401 278h1v1h-1zM436 278h2v1h-2zM635 278h1v2h-1zM402 279h2v1h-2zM406 279h1v2h-1zM438 279h1v1h-1zM614 279h1v2h-1zM664 279h1v2h-1zM688 279h1v2h-1zM398 280h1v2h-1zM404 280h1v1h-1zM439 280h1v1h-1zM634 280h1v2h-1zM405 281h1v1h-1zM440 281h1v1h-1zM522 281h1v2h-1zM615 281h1v2h-1zM665 281h1v2h-1zM687 281h1v3h-1zM370 282h1v3h-1zM397 282h1v2h-1zM441 282h1v2h-1zM633 282h1v2h-1zM521 283h1v2h-1zM616 283h1v1h-1zM666 283h1v2h-1zM396 284h1v1h-1zM442 284h1v1h-1zM617 284h1v1h-1zM632 284h1v2h-1zM686 284h1v3h-1zM371 285h1v4h-1zM395 285h1v2h-1zM443 285h1v1h-1zM520 285h1v1h-1zM618 285h1v1h-1zM667 285h1v2h-1zM444 286h1v1h-1zM519 286h1v1h-1zM619 286h1v1h-1zM631 286h1v1h-1zM394 287h1v2h-1zM445 287h1v2h-1zM518 287h1v2h-1zM620 287h1v2h-1zM630 287h1v1h-1zM668 287h1v1h-1zM685 287h1v2h-1zM629 288h1v1h-1zM669 288h1v2h-1zM372 289h1v3h-1zM393 289h1v2h-1zM446 289h1v2h-1zM517 289h1v2h-1zM621 289h1v1h-1zM628 289h1v2h-1zM684 289h1v2h-1zM622 290h1v1h-1zM670 290h1v2h-1zM392 291h1v1h-1zM447 291h1v2h-1zM516 291h1v2h-1zM623 291h1v1h-1zM627 291h1v1h-1zM683 291h1v1h-1zM373 292h1v3h-1zM391 292h1v2h-1zM624 292h1v1h-1zM626 292h1v1h-1zM671 292h1v1h-1zM682 292h1v1h-1zM448 293h1v2h-1zM515 293h1v2h-1zM625 293h1v1h-1zM672 293h1v2h-1zM680 293h2v1h-2zM390 294h1v2h-1zM679 294h1v1h-1zM374 295h1v4h-1zM449 295h1v2h-1zM514 295h1v3h-1zM673 295h6v1h-6zM389 296h1v2h-1zM450 297h1v3h-1zM388 298h1v2h-1zM513 298h1v2h-1zM375 299h1v2h-1zM387 300h1v2h-1zM451 300h1v3h-1zM512 300h1v2h-1zM376 301h1v2h-1zM386 302h1v2h-1zM511 302h1v2h-1zM377 303h1v2h-1zM452 303h1v3h-1zM385 304h1v2h-1zM510 304h1v2h-1zM378 305h1v1h-1zM379 306h1v2h-1zM384 306h1v1h-1zM453 306h1v3h-1zM509 306h1v2h-1zM383 307h1v2h-1zM380 308h1v2h-1zM508 308h1v2h-1zM382 309h1v1h-1zM454 309h1v3h-1zM381 310h1v1h-1zM507 310h1v2h-1zM455 312h1v2h-1zM506 312h1v2h-1zM456 314h1v2h-1zM505 314h1v1h-1zM503 315h2v1h-2zM457 316h1v3h-1zM501 316h2v1h-2zM497 317h4v1h-4zM493 318h4v1h-4zM458 319h1v2h-1zM492 319h1v2h-1zM459 321h1v2h-1zM491 321h1v2h-1zM460 323h1v2h-1zM490 323h1v2h-1zM461 325h1v3h-1zM489 325h1v2h-1zM488 327h1v2h-1zM462 328h1v2h-1zM487 329h1v2h-1zM463 330h1v2h-1zM486 331h1v2h-1zM464 332h1v2h-1zM485 333h1v1h-1zM465 334h1v2h-1zM484 334h1v2h-1zM466 336h1v2h-1zM483 336h1v2h-1zM467 338h1v1h-1zM482 338h1v1h-1zM468 339h1v2h-1zM481 339h1v2h-1zM469 341h1v1h-1zM480 341h1v1h-1zM470 342h1v1h-1zM479 342h1v2h-1zM471 343h1v2h-1zM477 344h2v1h-2zM472 345h1v1h-1zM475 345h2v1h-2zM473 346h2v1h-2z" fill="#ff0000" shape-rendering="crispEdges"/>
<path d="M161 403h1v1h-1zM159 404h2v1h-2zM165 404h3v1h-3zM155 406h1v1h-1zM171 406h2v1h-2zM154 407h1v1h-1zM173 407h1v1h-1zM570 407h2v1h-2zM153 408h1v1h-1zM564 408h3v1h-3zM572 408h1v1h-1zM576 408h1v1h-1zM577 409h2v1h-2zM582 409h1v1h-1zM176 410h1v1h-1zM559 410h2v1h-2zM583 410h2v1h-2zM588 410h3v1h-3zM594 410h1v1h-1zM810 410h1v1h-1zM814 410h2v1h-2zM149 411h1v1h-1zM177 411h1v1h-1zM558 411h1v1h-1zM595 411h2v1h-2zM808 411h2v1h-2zM816 411h1v1h-1zM148 412h1v1h-1zM178 412h1v1h-1zM600 412h3v1h-3zM804 412h1v1h-1zM820 412h1v1h-1zM147 413h1v1h-1zM554 413h1v1h-1zM802 413h2v1h-2zM821 413h1v1h-1zM107 414h1v1h-1zM111 414h3v1h-3zM553 414h1v1h-1zM606 414h1v1h-1zM822 414h1v1h-1zM105 415h2v1h-2zM117 415h1v1h-1zM552 415h1v1h-1zM607 415h1v1h-1zM798 415h1v1h-1zM101 416h1v1h-1zM118 416h1v1h-1zM143 416h1v1h-1zM181 416h1v1h-1zM608 416h1v1h-1zM796 416h2v1h-2zM826 416h1v1h-1zM100 417h1v1h-1zM119 417h1v1h-1zM141 417h2v1h-2zM182 417h1v1h-1zM827 417h1v1h-1zM99 418h1v1h-1zM183 418h1v1h-1zM548 418h1v1h-1zM792 418h1v1h-1zM828 418h1v1h-1zM123 419h2v1h-2zM547 419h1v1h-1zM612 419h1v1h-1zM790 419h2v1h-2zM125 420h1v1h-1zM135 420h3v1h-3zM546 420h1v1h-1zM613 420h1v1h-1zM754 420h3v1h-3zM760 420h2v1h-2zM95 421h1v1h-1zM129 421h3v1h-3zM614 421h1v1h-1zM748 421h3v1h-3zM762 421h1v1h-1zM766 421h2v1h-2zM786 421h1v1h-1zM832 421h2v1h-2zM94 422h1v1h-1zM185 422h1v1h-1zM768 422h1v1h-1zM784 422h2v1h-2zM834 422h1v1h-1zM93 423h1v1h-1zM186 423h1v1h-1zM742 423h3v1h-3zM772 423h3v1h-3zM780 423h1v1h-1zM187 424h1v1h-1zM543 424h1v1h-1zM778 424h2v1h-2zM542 425h1v1h-1zM617 425h1v1h-1zM738 425h1v1h-1zM838 425h3v1h-3zM541 426h1v1h-1zM618 426h1v1h-1zM736 426h2v1h-2zM90 427h1v1h-1zM619 427h1v1h-1zM844 427h1v1h-1zM89 428h1v1h-1zM190 428h2v1h-2zM732 428h1v1h-1zM845 428h1v1h-1zM88 429h1v1h-1zM192 429h1v1h-1zM730 429h2v1h-2zM846 429h1v1h-1zM538 430h1v1h-1zM537 431h1v1h-1zM623 431h1v1h-1zM726 431h1v1h-1zM850 431h2v1h-2zM536 432h1v1h-1zM624 432h1v1h-1zM724 432h2v1h-2zM852 432h1v1h-1zM85 433h1v1h-1zM196 433h1v1h-1zM625 433h1v1h-1zM84 434h1v1h-1zM197 434h1v1h-1zM856 434h3v1h-3zM83 435h1v1h-1zM198 435h1v1h-1zM719 435h2v1h-2zM533 436h1v1h-1zM718 436h1v1h-1zM862 436h2v1h-2zM202 437h1v1h-1zM532 437h1v1h-1zM629 437h1v2h-1zM864 437h1v1h-1zM203 438h2v1h-2zM531 438h1v1h-1zM713 438h2v1h-2zM79 439h1v1h-1zM630 439h1v1h-1zM712 439h1v1h-1zM868 439h1v1h-1zM78 440h1v1h-1zM708 440h1v1h-1zM869 440h1v1h-1zM77 441h1v1h-1zM208 441h1v1h-1zM706 441h2v1h-2zM870 441h1v1h-1zM209 442h2v1h-2zM528 442h1v1h-1zM634 442h2v1h-2zM73 443h1v1h-1zM527 443h1v1h-1zM636 443h1v1h-1zM660 443h1v1h-1zM664 443h3v1h-3zM670 443h2v1h-2zM700 443h3v1h-3zM5 444h3v1h-3zM11 444h1v1h-1zM71 444h2v1h-2zM214 444h2v1h-2zM526 444h1v1h-1zM640 444h3v1h-3zM654 444h1v1h-1zM658 444h2v1h-2zM672 444h1v1h-1zM12 445h2v1h-2zM17 445h2v1h-2zM216 445h1v1h-1zM220 445h3v1h-3zM316 445h3v1h-3zM646 445h3v1h-3zM652 445h2v1h-2zM676 445h3v1h-3zM694 445h3v1h-3zM19 446h1v1h-1zM65 446h3v1h-3zM226 446h3v1h-3zM312 446h1v1h-1zM322 446h2v1h-2zM682 446h2v1h-2zM690 446h1v1h-1zM23 447h2v1h-2zM59 447h3v1h-3zM311 447h1v1h-1zM324 447h1v1h-1zM522 447h1v1h-1zM684 447h1v1h-1zM688 447h2v1h-2zM25 448h1v1h-1zM29 448h3v1h-3zM35 448h3v1h-3zM41 448h3v1h-3zM47 448h3v1h-3zM53 448h3v1h-3zM232 448h3v1h-3zM310 448h1v1h-1zM328 448h2v1h-2zM521 448h1v1h-1zM330 449h1v1h-1zM520 449h1v1h-1zM238 450h2v1h-2zM240 451h1v1h-1zM306 451h1v1h-1zM334 451h2v1h-2zM305 452h1v1h-1zM336 452h1v1h-1zM444 452h1v1h-1zM448 452h3v1h-3zM516 452h1v1h-1zM244 453h1v1h-1zM304 453h1v1h-1zM442 453h2v1h-2zM454 453h2v1h-2zM515 453h1v1h-1zM245 454h2v1h-2zM340 454h2v1h-2zM436 454h3v1h-3zM456 454h1v1h-1zM514 454h1v1h-1zM342 455h1v1h-1zM460 455h3v1h-3zM346 456h2v1h-2zM431 456h2v1h-2zM250 457h1v1h-1zM300 457h1v1h-1zM348 457h1v1h-1zM352 457h1v1h-1zM430 457h1v1h-1zM466 457h1v1h-1zM510 457h1v1h-1zM251 458h2v1h-2zM299 458h1v1h-1zM353 458h2v1h-2zM358 458h3v1h-3zM364 458h1v1h-1zM467 458h2v1h-2zM509 458h1v1h-1zM298 459h1v1h-1zM365 459h2v1h-2zM425 459h2v1h-2zM508 459h1v1h-1zM256 460h1v1h-1zM370 460h1v1h-1zM424 460h1v1h-1zM257 461h2v1h-2zM371 461h2v1h-2zM472 461h1v1h-1zM293 462h2v1h-2zM473 462h2v1h-2zM502 462h3v1h-3zM292 463h1v1h-1zM376 463h1v1h-1zM419 463h2v1h-2zM262 464h1v1h-1zM377 464h2v1h-2zM418 464h1v1h-1zM478 464h2v1h-2zM496 464h3v1h-3zM263 465h2v1h-2zM287 465h2v1h-2zM480 465h1v1h-1zM484 465h1v1h-1zM491 465h2v1h-2zM286 466h1v1h-1zM413 466h2v1h-2zM485 466h2v1h-2zM490 466h1v1h-1zM268 467h2v1h-2zM382 467h2v1h-2zM412 467h1v1h-1zM270 468h1v1h-1zM282 468h1v1h-1zM384 468h1v1h-1zM274 469h2v1h-2zM280 469h2v1h-2zM276 470h1v1h-1zM388 470h2v1h-2zM407 470h2v1h-2zM390 471h1v1h-1zM406 471h1v1h-1zM394 472h1v1h-1zM401 472h2v1h-2zM395 473h2v1h-2zM400 473h1v1h-1z" fill="#ff0000" shape-rendering="crispEdges"/>
<path d="M79 513h2v1h-2zM77 514h2v1h-2zM81 514h1v1h-1zM785 514h2v1h-2zM76 515h1v1h-1zM82 515h1v2h-1zM533 515h5v1h-5zM783 515h2v1h-2zM787 515h2v1h-2zM74 516h2v1h-2zM531 516h2v1h-2zM538 516h2v1h-2zM781 516h2v1h-2zM789 516h1v1h-1zM73 517h1v1h-1zM83 517h1v1h-1zM133 517h3v1h-3zM529 517h2v1h-2zM540 517h1v1h-1zM779 517h2v1h-2zM790 517h2v1h-2zM72 518h1v2h-1zM84 518h1v1h-1zM88 518h3v1h-3zM131 518h2v1h-2zM136 518h6v1h-6zM528 518h1v1h-1zM541 518h3v1h-3zM580 518h4v1h-4zM737 518h1v1h-1zM778 518h1v1h-1zM792 518h1v1h-1zM85 519h3v1h-3zM91 519h2v1h-2zM129 519h2v1h-2zM142 519h2v1h-2zM527 519h1v2h-1zM544 519h2v1h-2zM577 519h3v1h-3zM584 519h3v1h-3zM725 519h1v1h-1zM736 519h1v1h-1zM738 519h1v2h-1zM776 519h2v1h-2zM793 519h1v2h-1zM71 520h1v1h-1zM93 520h1v2h-1zM128 520h1v1h-1zM144 520h1v1h-1zM148 520h6v1h-6zM546 520h1v1h-1zM576 520h1v1h-1zM587 520h2v1h-2zM724 520h1v1h-1zM726 520h1v1h-1zM734 520h2v1h-2zM774 520h2v1h-2zM70 521h1v2h-1zM126 521h2v1h-2zM145 521h3v1h-3zM153 521h1v1h-1zM526 521h1v1h-1zM547 521h1v1h-1zM575 521h1v1h-1zM589 521h1v2h-1zM722 521h2v1h-2zM727 521h1v1h-1zM733 521h1v1h-1zM739 521h1v2h-1zM773 521h1v2h-1zM794 521h1v2h-1zM94 522h1v2h-1zM125 522h1v1h-1zM154 522h1v3h-1zM525 522h1v1h-1zM548 522h1v1h-1zM574 522h1v1h-1zM721 522h1v1h-1zM728 522h1v1h-1zM731 522h2v1h-2zM68 523h2v1h-2zM124 523h1v1h-1zM524 523h1v2h-1zM549 523h1v1h-1zM573 523h1v1h-1zM590 523h1v4h-1zM720 523h1v1h-1zM729 523h2v1h-2zM740 523h1v2h-1zM772 523h1v2h-1zM795 523h1v2h-1zM805 523h1v2h-1zM65 524h3v1h-3zM95 524h1v2h-1zM123 524h1v1h-1zM550 524h1v1h-1zM571 524h2v1h-2zM696 524h2v1h-2zM719 524h1v2h-1zM804 524h1v1h-1zM64 525h1v1h-1zM122 525h1v1h-1zM155 525h1v2h-1zM523 525h1v1h-1zM551 525h1v1h-1zM569 525h2v1h-2zM692 525h4v1h-4zM697 525h1v1h-1zM741 525h2v1h-2zM771 525h1v2h-1zM796 525h1v2h-1zM803 525h1v1h-1zM806 525h1v2h-1zM63 526h1v2h-1zM96 526h1v2h-1zM121 526h1v2h-1zM285 526h1v1h-1zM512 526h2v1h-2zM522 526h1v2h-1zM552 526h1v1h-1zM567 526h2v1h-2zM688 526h4v1h-4zM698 526h1v2h-1zM713 526h3v1h-3zM718 526h1v1h-1zM743 526h2v1h-2zM802 526h1v1h-1zM156 527h1v3h-1zM284 527h1v1h-1zM286 527h1v1h-1zM509 527h3v1h-3zM514 527h2v1h-2zM553 527h2v1h-2zM565 527h2v1h-2zM591 527h1v4h-1zM685 527h3v1h-3zM712 527h1v1h-1zM716 527h2v1h-2zM745 527h1v1h-1zM770 527h1v2h-1zM797 527h5v1h-5zM807 527h1v2h-1zM62 528h1v1h-1zM97 528h1v2h-1zM120 528h1v2h-1zM283 528h1v2h-1zM287 528h1v1h-1zM293 528h2v1h-2zM507 528h2v1h-2zM516 528h1v1h-1zM520 528h2v1h-2zM555 528h2v1h-2zM563 528h2v1h-2zM685 528h1v1h-1zM699 528h1v2h-1zM711 528h1v1h-1zM746 528h1v2h-1zM61 529h1v2h-1zM288 529h1v1h-1zM291 529h2v1h-2zM295 529h2v1h-2zM505 529h2v1h-2zM517 529h3v1h-3zM557 529h6v1h-6zM637 529h5v1h-5zM684 529h1v3h-1zM710 529h1v1h-1zM769 529h1v2h-1zM808 529h1v2h-1zM837 529h2v1h-2zM33 530h1v1h-1zM98 530h1v2h-1zM119 530h1v2h-1zM157 530h1v2h-1zM282 530h1v1h-1zM289 530h2v1h-2zM297 530h5v1h-5zM504 530h1v2h-1zM636 530h1v1h-1zM642 530h2v1h-2zM649 530h1v2h-1zM700 530h1v2h-1zM709 530h1v1h-1zM747 530h1v1h-1zM836 530h1v1h-1zM839 530h2v1h-2zM32 531h1v1h-1zM34 531h1v1h-1zM60 531h1v1h-1zM158 531h2v1h-2zM277 531h5v1h-5zM302 531h1v1h-1zM592 531h1v4h-1zM635 531h1v2h-1zM644 531h1v1h-1zM647 531h2v1h-2zM708 531h1v1h-1zM748 531h1v2h-1zM768 531h1v1h-1zM809 531h1v2h-1zM835 531h1v2h-1zM841 531h1v1h-1zM30 532h2v1h-2zM35 532h1v1h-1zM59 532h1v2h-1zM99 532h1v2h-1zM118 532h1v2h-1zM160 532h2v1h-2zM201 532h2v1h-2zM277 532h1v1h-1zM303 532h1v1h-1zM409 532h6v1h-6zM503 532h1v1h-1zM645 532h2v1h-2zM650 532h1v2h-1zM683 532h1v2h-1zM701 532h1v2h-1zM706 532h2v1h-2zM757 532h8v1h-8zM766 532h2v1h-2zM829 532h2v1h-2zM842 532h1v2h-1zM29 533h1v1h-1zM36 533h1v1h-1zM109 533h1v1h-1zM162 533h1v1h-1zM200 533h1v1h-1zM203 533h2v1h-2zM276 533h1v3h-1zM304 533h1v1h-1zM341 533h5v1h-5zM409 533h1v1h-1zM415 533h2v1h-2zM425 533h6v1h-6zM502 533h1v2h-1zM634 533h1v1h-1zM702 533h4v1h-4zM749 533h1v1h-1zM756 533h1v1h-1zM765 533h1v1h-1zM810 533h2v1h-2zM827 533h2v1h-2zM831 533h2v1h-2zM834 533h1v1h-1zM28 534h1v1h-1zM37 534h1v1h-1zM58 534h1v1h-1zM100 534h1v2h-1zM108 534h1v1h-1zM110 534h1v1h-1zM117 534h1v2h-1zM163 534h1v1h-1zM169 534h1v2h-1zM189 534h7v1h-7zM198 534h2v1h-2zM205 534h1v1h-1zM305 534h1v1h-1zM341 534h1v1h-1zM346 534h1v1h-1zM408 534h1v3h-1zM417 534h1v1h-1zM424 534h1v2h-1zM431 534h2v1h-2zM481 534h2v1h-2zM629 534h5v1h-5zM651 534h1v2h-1zM682 534h1v3h-1zM750 534h2v1h-2zM755 534h1v1h-1zM812 534h1v1h-1zM825 534h2v1h-2zM833 534h1v1h-1zM843 534h1v2h-1zM27 535h1v2h-1zM38 535h2v1h-2zM57 535h1v1h-1zM107 535h1v1h-1zM111 535h1v2h-1zM164 535h1v1h-1zM167 535h2v1h-2zM189 535h1v1h-1zM196 535h2v1h-2zM206 535h1v2h-1zM306 535h1v1h-1zM340 535h1v3h-1zM347 535h1v2h-1zM418 535h1v2h-1zM433 535h1v1h-1zM480 535h1v2h-1zM483 535h2v1h-2zM488 535h6v1h-6zM501 535h1v1h-1zM593 535h1v2h-1zM596 535h2v1h-2zM629 535h1v1h-1zM752 535h1v1h-1zM754 535h1v1h-1zM813 535h2v1h-2zM823 535h2v1h-2zM40 536h1v1h-1zM56 536h1v2h-1zM101 536h3v1h-3zM106 536h1v1h-1zM116 536h1v1h-1zM165 536h2v1h-2zM170 536h1v2h-1zM188 536h1v2h-1zM275 536h1v3h-1zM307 536h1v2h-1zM397 536h2v1h-2zM423 536h1v2h-1zM434 536h1v1h-1zM485 536h3v1h-3zM494 536h1v1h-1zM500 536h1v1h-1zM594 536h2v1h-2zM598 536h1v1h-1zM628 536h1v2h-1zM652 536h1v2h-1zM677 536h2v1h-2zM753 536h1v1h-1zM815 536h2v1h-2zM820 536h3v1h-3zM844 536h1v2h-1zM26 537h1v1h-1zM41 537h1v1h-1zM104 537h2v1h-2zM112 537h1v1h-1zM114 537h2v1h-2zM207 537h1v2h-1zM213 537h3v1h-3zM348 537h1v1h-1zM396 537h1v1h-1zM399 537h2v1h-2zM407 537h1v2h-1zM419 537h1v1h-1zM435 537h1v2h-1zM479 537h1v1h-1zM495 537h1v1h-1zM499 537h1v1h-1zM599 537h1v1h-1zM676 537h1v1h-1zM679 537h3v1h-3zM817 537h3v1h-3zM857 537h1v1h-1zM25 538h1v1h-1zM42 538h1v2h-1zM55 538h1v1h-1zM113 538h1v1h-1zM171 538h1v2h-1zM187 538h1v2h-1zM212 538h1v1h-1zM216 538h4v1h-4zM308 538h1v1h-1zM339 538h1v2h-1zM349 538h1v1h-1zM395 538h1v1h-1zM401 538h1v1h-1zM420 538h1v2h-1zM422 538h1v2h-1zM441 538h1v1h-1zM478 538h1v2h-1zM496 538h1v1h-1zM498 538h1v1h-1zM600 538h1v1h-1zM627 538h1v3h-1zM653 538h3v1h-3zM675 538h1v2h-1zM681 538h1v1h-1zM845 538h3v1h-3zM856 538h1v1h-1zM858 538h2v1h-2zM24 539h1v1h-1zM54 539h1v1h-1zM208 539h1v2h-1zM211 539h1v1h-1zM220 539h9v1h-9zM274 539h1v3h-1zM309 539h1v1h-1zM350 539h2v1h-2zM385 539h7v1h-7zM394 539h1v1h-1zM402 539h1v1h-1zM406 539h1v3h-1zM436 539h1v1h-1zM439 539h2v1h-2zM442 539h2v1h-2zM449 539h1v1h-1zM497 539h1v1h-1zM601 539h1v1h-1zM656 539h3v1h-3zM848 539h4v1h-4zM854 539h2v1h-2zM860 539h1v1h-1zM13 540h2v1h-2zM23 540h1v1h-1zM43 540h1v1h-1zM53 540h1v1h-1zM172 540h1v2h-1zM186 540h1v2h-1zM210 540h1v1h-1zM229 540h1v1h-1zM310 540h1v1h-1zM338 540h1v3h-1zM352 540h1v1h-1zM384 540h1v1h-1zM392 540h2v1h-2zM403 540h1v2h-1zM421 540h1v1h-1zM437 540h2v1h-2zM444 540h1v1h-1zM447 540h2v1h-2zM450 540h1v1h-1zM477 540h1v1h-1zM602 540h2v1h-2zM613 540h1v1h-1zM659 540h2v1h-2zM674 540h1v1h-1zM852 540h2v1h-2zM861 540h1v1h-1zM5 541h3v1h-3zM11 541h2v1h-2zM15 541h2v1h-2zM22 541h1v1h-1zM44 541h1v2h-1zM51 541h2v1h-2zM176 541h3v1h-3zM209 541h1v1h-1zM230 541h1v2h-1zM311 541h1v1h-1zM353 541h3v1h-3zM382 541h2v1h-2zM445 541h2v1h-2zM451 541h1v2h-1zM476 541h1v1h-1zM604 541h1v1h-1zM612 541h1v1h-1zM614 541h2v1h-2zM626 541h1v2h-1zM661 541h6v1h-6zM673 541h1v1h-1zM862 541h1v1h-1zM8 542h3v1h-3zM17 542h5v1h-5zM48 542h3v1h-3zM173 542h3v1h-3zM179 542h2v1h-2zM185 542h1v2h-1zM273 542h1v2h-1zM312 542h1v1h-1zM356 542h3v1h-3zM381 542h1v2h-1zM404 542h2v1h-2zM474 542h2v1h-2zM605 542h3v1h-3zM610 542h2v1h-2zM616 542h1v1h-1zM667 542h2v1h-2zM671 542h2v1h-2zM863 542h1v1h-1zM45 543h3v1h-3zM181 543h4v1h-4zM231 543h1v2h-1zM269 543h4v1h-4zM313 543h3v1h-3zM320 543h9v1h-9zM332 543h4v1h-4zM337 543h1v2h-1zM359 543h2v1h-2zM405 543h1v1h-1zM452 543h1v1h-1zM473 543h1v1h-1zM608 543h2v1h-2zM617 543h7v1h-7zM625 543h1v2h-1zM669 543h2v1h-2zM864 543h1v1h-1zM254 544h6v1h-6zM269 544h1v1h-1zM316 544h4v1h-4zM329 544h3v1h-3zM336 544h1v1h-1zM361 544h1v1h-1zM380 544h1v3h-1zM453 544h3v1h-3zM472 544h1v1h-1zM624 544h1v1h-1zM865 544h1v1h-1zM232 545h1v2h-1zM253 545h1v1h-1zM260 545h2v1h-2zM268 545h1v2h-1zM362 545h1v2h-1zM456 545h10v1h-10zM471 545h1v2h-1zM866 545h2v1h-2zM875 545h2v1h-2zM241 546h2v1h-2zM252 546h1v1h-1zM262 546h1v2h-1zM466 546h2v1h-2zM868 546h1v1h-1zM872 546h3v1h-3zM233 547h2v1h-2zM240 547h1v1h-1zM243 547h2v1h-2zM251 547h1v1h-1zM267 547h1v3h-1zM363 547h1v2h-1zM379 547h1v2h-1zM468 547h1v1h-1zM470 547h1v1h-1zM869 547h3v1h-3zM235 548h2v1h-2zM238 548h2v1h-2zM245 548h2v1h-2zM249 548h2v1h-2zM263 548h1v2h-1zM469 548h1v1h-1zM237 549h1v1h-1zM247 549h2v1h-2zM364 549h1v2h-1zM378 549h1v3h-1zM264 550h1v2h-1zM266 550h1v2h-1zM365 551h3v1h-3zM265 552h1v2h-1zM368 552h4v1h-4zM377 552h1v2h-1zM372 553h5v1h-5z" fill="#1e90ff" shape-rendering="crispEdges"/>
<g shape-rendering="crispEdges">
<rect x="1109" y="113" width="40" height="11" fill="#ff0000"/>
<rect x="1109" y="168" width="40" height="11" fill="#ff0000"/>
<rect x="1109" y="232" width="40" height="11" fill="#32cd32"/>
<rect x="1109" y="277" width="40" height="11" fill="#000000"/>
<rect x="1109" y="296" width="40" height="11" fill="#0000cd"/>
<rect x="1109" y="373" width="40" height="11" fill="#0000cd"/>
</g>
<text x="1113.4" y="28.2" class="ax" textLength="32.6" lengthAdjust="spacingAndGlyphs">1.14340</text>
<text x="1113.4" y="61.2" class="ax" textLength="32.6" lengthAdjust="spacingAndGlyphs">1.13830</text>
<text x="1113.4" y="94.2" class="ax" textLength="32.6" lengthAdjust="spacingAndGlyphs">1.13305</text>
<text x="1113.4" y="128.2" class="ax" textLength="32.6" lengthAdjust="spacingAndGlyphs">1.12795</text>
<text x="1113.4" y="161.2" class="ax" textLength="32.6" lengthAdjust="spacingAndGlyphs">1.12285</text>
<text x="1113.4" y="194.2" class="ax" textLength="32.6" lengthAdjust="spacingAndGlyphs">1.11760</text>
<text x="1113.4" y="226.2" class="ax" textLength="32.6" lengthAdjust="spacingAndGlyphs">1.11250</text>
<text x="1113.4" y="259.2" class="ax" textLength="32.6" lengthAdjust="spacingAndGlyphs">1.10740</text>
<text x="1113.4" y="292.2" class="ax" textLength="32.6" lengthAdjust="spacingAndGlyphs">1.10250</text>
<text x="1113.4" y="325.2" class="ax" textLength="32.6" lengthAdjust="spacingAndGlyphs">1.09705</text>
<text x="1113.4" y="358.2" class="ax" textLength="32.6" lengthAdjust="spacingAndGlyphs">1.09195</text>
<text x="1113.4" y="391.2" class="ax" textLength="32.6" lengthAdjust="spacingAndGlyphs">1.08685</text>
<g shape-rendering="crispEdges">
<rect x="1109" y="113" width="40" height="11" fill="#ff0000"/>
<rect x="1109" y="277" width="40" height="11" fill="#000000"/>
<rect x="1109" y="373" width="40" height="11" fill="#0000cd"/>
</g>
<text x="1113.4" y="122.2" class="axw" textLength="32.6" lengthAdjust="spacingAndGlyphs">1.12854</text>
<text x="1113.4" y="177.2" class="axw" textLength="32.6" lengthAdjust="spacingAndGlyphs">1.12003</text>
<text x="1113.4" y="241.2" class="axw" textLength="32.6" lengthAdjust="spacingAndGlyphs">1.11004</text>
<text x="1113.4" y="286.2" class="axw" textLength="32.6" lengthAdjust="spacingAndGlyphs">1.10316</text>
<text x="1113.4" y="305.2" class="axw" textLength="32.6" lengthAdjust="spacingAndGlyphs">1.10004</text>
<text x="1113.4" y="382.2" class="axw" textLength="32.6" lengthAdjust="spacingAndGlyphs">1.08802</text>
<text x="1111" y="403.7" class="ax" textLength="32.9" lengthAdjust="spacingAndGlyphs">0.00463</text>
<text x="1111" y="440.7" class="ax" textLength="17.7" lengthAdjust="spacingAndGlyphs">0.00</text>
<text x="1111" y="481.7" class="ax" textLength="40.6" lengthAdjust="spacingAndGlyphs">-0.005299</text>
<text x="1111" y="498.2" class="ax" textLength="14.1" lengthAdjust="spacingAndGlyphs">100</text>
<text x="1110.4" y="519.7" class="ax" textLength="9.6" lengthAdjust="spacingAndGlyphs">70</text>
<text x="1110.4" y="554.2" class="ax" textLength="9.6" lengthAdjust="spacingAndGlyphs">30</text>
<text x="1111" y="574.2" class="ax" textLength="5" lengthAdjust="spacingAndGlyphs">0</text>
<text x="4.4" y="590" class="dt" textLength="54" lengthAdjust="spacingAndGlyphs">17 May 2019</text>
<text x="68" y="590" class="dt" textLength="45" lengthAdjust="spacingAndGlyphs">5 Jun 2019</text>
<text x="132.2" y="590" class="dt" textLength="49.4" lengthAdjust="spacingAndGlyphs">24 Jun 2019</text>
<text x="196.3" y="590" class="dt" textLength="46.5" lengthAdjust="spacingAndGlyphs">12 Jul 2019</text>
<text x="260.3" y="590" class="dt" textLength="46.5" lengthAdjust="spacingAndGlyphs">31 Jul 2019</text>
<text x="324.6" y="590" class="dt" textLength="51.7" lengthAdjust="spacingAndGlyphs">19 Aug 2019</text>
<text x="388.4" y="590" class="dt" textLength="46.2" lengthAdjust="spacingAndGlyphs">6 Sep 2019</text>
<text x="452.3" y="590" class="dt" textLength="51.5" lengthAdjust="spacingAndGlyphs">25 Sep 2019</text>
<text x="516.3" y="590" class="dt" textLength="50.1" lengthAdjust="spacingAndGlyphs">14 Oct 2019</text>
<text x="580.3" y="590" class="dt" textLength="48.6" lengthAdjust="spacingAndGlyphs">1 Nov 2019</text>
<text x="644.3" y="590" class="dt" textLength="53.3" lengthAdjust="spacingAndGlyphs">20 Nov 2019</text>
<text x="708" y="590" class="dt" textLength="46.5" lengthAdjust="spacingAndGlyphs">9 Dec 2019</text>
<text x="772.1" y="590" class="dt" textLength="51.2" lengthAdjust="spacingAndGlyphs">27 Dec 2019</text>
<text x="836.6" y="590" class="dt" textLength="48.8" lengthAdjust="spacingAndGlyphs">15 Jan 2020</text>
<text x="20.5" y="32" class="ttl" textLength="62.8" lengthAdjust="spacingAndGlyphs">EURUSD,Daily</text>
<text x="90.4" y="32" class="ttl" textLength="32.3" lengthAdjust="spacingAndGlyphs">1.10287</text>
<text x="126.5" y="32" class="ttl" textLength="32.3" lengthAdjust="spacingAndGlyphs">1.10339</text>
<text x="162.60000000000002" y="32" class="ttl" textLength="32.3" lengthAdjust="spacingAndGlyphs">1.10237</text>
<text x="198.70000000000002" y="32" class="ttl" textLength="32.3" lengthAdjust="spacingAndGlyphs">1.10316</text>
<path d="M8 27h7l-3.5 4z" fill="#000"/>
<text x="9.8" y="405.6" class="ttl" textLength="153" lengthAdjust="spacingAndGlyphs">MACD(12,26,9) -0.002410 -0.001111</text>
<text x="9.8" y="500.6" class="ttl" textLength="67.2" lengthAdjust="spacingAndGlyphs">RSI(14) 35.6378</text>
<text x="14.7" y="7.8" class="tb" textLength="12.4" lengthAdjust="spacingAndGlyphs">H4</text>
<text x="43.5" y="7.8" class="tb" textLength="11.9" lengthAdjust="spacingAndGlyphs">D1</text>
<text x="71.3" y="7.8" class="tb" textLength="13.7" lengthAdjust="spacingAndGlyphs">W1</text>
<text x="97.9" y="7.8" class="tb" textLength="14.4" lengthAdjust="spacingAndGlyphs">MN</text>
<text x="18.7" y="615" class="taba" textLength="78.8" lengthAdjust="spacingAndGlyphs">EURUSD,Daily</text>
<text x="121" y="615" class="tab" textLength="82" lengthAdjust="spacingAndGlyphs">AUDUSD,Daily</text>
<text x="224" y="615" class="tab" textLength="79" lengthAdjust="spacingAndGlyphs">USDCHF,Daily</text>
<text x="325" y="615" class="tab" textLength="81" lengthAdjust="spacingAndGlyphs">USDCAD,Daily</text>
<text x="428" y="615" class="tab" textLength="83" lengthAdjust="spacingAndGlyphs">USDCNH,Daily</text>
<text x="533" y="615" class="tab" textLength="66" lengthAdjust="spacingAndGlyphs">EURGBP,H1</text>
<text x="621" y="615" class="tab" textLength="69" lengthAdjust="spacingAndGlyphs">NZDUSD,H1</text>
<text x="714.4" y="615" class="tab" textLength="66.6" lengthAdjust="spacingAndGlyphs">GBPUSD,H1</text>
<path d="M1127 605v8l-4-4z" fill="#a0a0a0"/><path d="M1142 605v8l4-4z" fill="#a0a0a0"/>
</svg></body></html>
